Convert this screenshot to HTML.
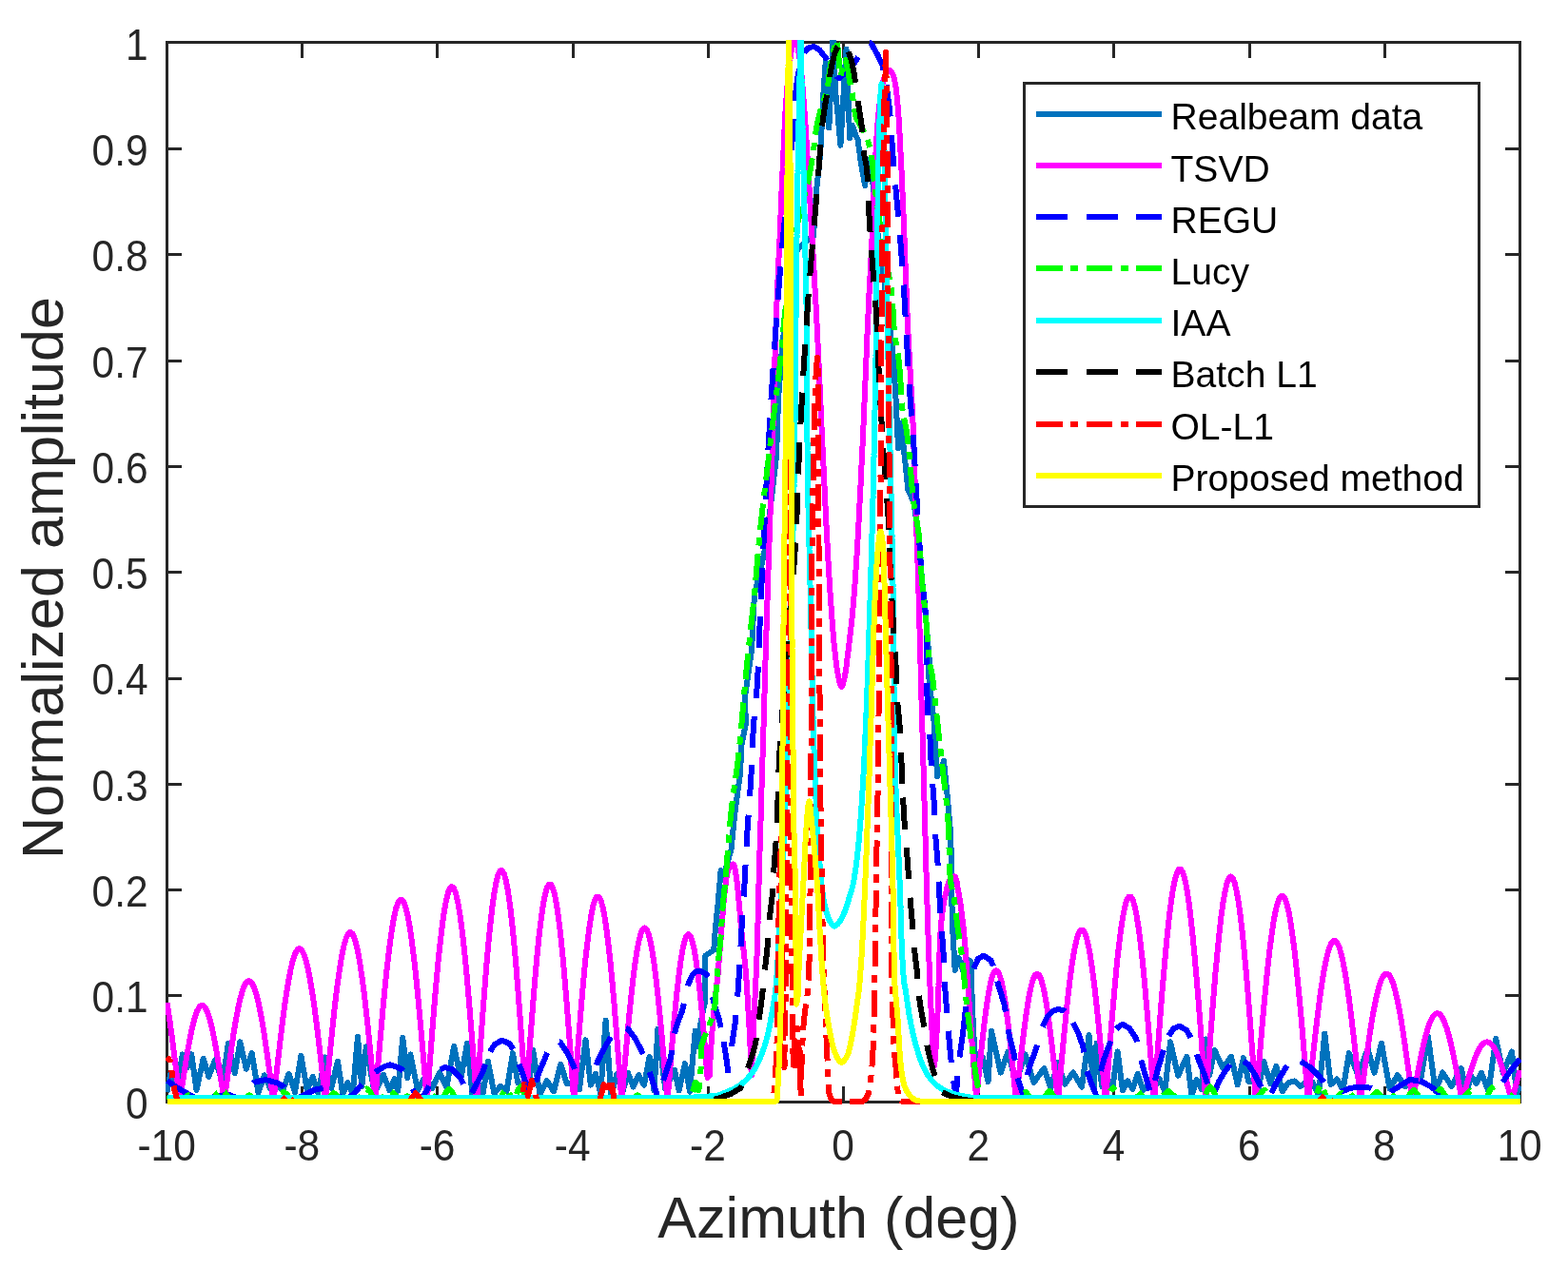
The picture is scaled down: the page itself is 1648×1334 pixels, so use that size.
<!DOCTYPE html>
<html lang="en">
<head>
<meta charset="utf-8">
<title>Normalized amplitude vs Azimuth</title>
<style>
html,body{margin:0;padding:0;background:#fff;}
body{width:1648px;height:1334px;overflow:hidden;}
svg{display:block;}
text{font-family:"Liberation Sans",Arial,Helvetica,sans-serif;}
.tick{font-size:42.45px;fill:#262626;}
.lab{font-size:61.1px;fill:#262626;}
.leg{font-size:39.05px;fill:#000;}
.c{fill:none;stroke-width:6.0;stroke-linejoin:round;stroke-linecap:butt;}
</style>
</head>
<body>
<svg width="1648" height="1334" viewBox="0 0 1648 1334">
<rect x="0" y="0" width="1648" height="1334" fill="#fff"/>
<defs><clipPath id="ax"><rect x="174" y="42" width="1425" height="1119.2"/></clipPath></defs>
<g fill="#262626" shape-rendering="crispEdges">
<rect x="174" y="43" width="1425" height="3"/><rect x="174" y="1157" width="1425" height="3"/><rect x="174" y="43" width="3" height="1117"/><rect x="1596" y="43" width="3" height="1117"/>
<rect x="316" y="1142" width="3" height="15"/><rect x="316" y="46" width="3" height="15"/>
<rect x="458" y="1142" width="3" height="15"/><rect x="458" y="46" width="3" height="15"/>
<rect x="601" y="1142" width="3" height="15"/><rect x="601" y="46" width="3" height="15"/>
<rect x="743" y="1142" width="3" height="15"/><rect x="743" y="46" width="3" height="15"/>
<rect x="885" y="1142" width="3" height="15"/><rect x="885" y="46" width="3" height="15"/>
<rect x="1027" y="1142" width="3" height="15"/><rect x="1027" y="46" width="3" height="15"/>
<rect x="1169" y="1142" width="3" height="15"/><rect x="1169" y="46" width="3" height="15"/>
<rect x="1312" y="1142" width="3" height="15"/><rect x="1312" y="46" width="3" height="15"/>
<rect x="1454" y="1142" width="3" height="15"/><rect x="1454" y="46" width="3" height="15"/>
<rect x="177" y="1045" width="14" height="3"/><rect x="1582" y="1045" width="14" height="3"/>
<rect x="177" y="934" width="14" height="3"/><rect x="1582" y="934" width="14" height="3"/>
<rect x="177" y="823" width="14" height="3"/><rect x="1582" y="823" width="14" height="3"/>
<rect x="177" y="712" width="14" height="3"/><rect x="1582" y="712" width="14" height="3"/>
<rect x="177" y="600" width="14" height="3"/><rect x="1582" y="600" width="14" height="3"/>
<rect x="177" y="489" width="14" height="3"/><rect x="1582" y="489" width="14" height="3"/>
<rect x="177" y="378" width="14" height="3"/><rect x="1582" y="378" width="14" height="3"/>
<rect x="177" y="266" width="14" height="3"/><rect x="1582" y="266" width="14" height="3"/>
<rect x="177" y="155" width="14" height="3"/><rect x="1582" y="155" width="14" height="3"/>
</g>
<g class="tick" text-anchor="middle">
<text transform="translate(175.1 1220.2) scale(1 1.08)">-10</text>
<text transform="translate(317.3 1220.2) scale(1 1.08)">-8</text>
<text transform="translate(459.5 1220.2) scale(1 1.08)">-6</text>
<text transform="translate(601.7 1220.2) scale(1 1.08)">-4</text>
<text transform="translate(743.9 1220.2) scale(1 1.08)">-2</text>
<text transform="translate(886.1 1220.2) scale(1 1.08)">0</text>
<text transform="translate(1028.3 1220.2) scale(1 1.08)">2</text>
<text transform="translate(1170.5 1220.2) scale(1 1.08)">4</text>
<text transform="translate(1312.7 1220.2) scale(1 1.08)">6</text>
<text transform="translate(1454.9 1220.2) scale(1 1.08)">8</text>
<text transform="translate(1597.1 1220.2) scale(1 1.08)">10</text>
</g>
<g class="tick" text-anchor="end">
<text transform="translate(155.6 1175.6) scale(1 1.075)">0</text>
<text transform="translate(155.6 1064.3) scale(1 1.075)">0.1</text>
<text transform="translate(155.6 953.0) scale(1 1.075)">0.2</text>
<text transform="translate(155.6 841.7) scale(1 1.075)">0.3</text>
<text transform="translate(155.6 730.4) scale(1 1.075)">0.4</text>
<text transform="translate(155.6 619.1) scale(1 1.075)">0.5</text>
<text transform="translate(155.6 507.8) scale(1 1.075)">0.6</text>
<text transform="translate(155.6 396.5) scale(1 1.075)">0.7</text>
<text transform="translate(155.6 285.2) scale(1 1.075)">0.8</text>
<text transform="translate(155.6 173.9) scale(1 1.075)">0.9</text>
<text transform="translate(155.6 63.2) scale(1 1.075)">1</text>
</g>
<text class="lab" text-anchor="middle" transform="translate(881.4 1300.8)">Azimuth (deg)</text>
<text class="lab" text-anchor="middle" transform="translate(66.0 607.5) rotate(-90)">Normalized amplitude</text>
<g clip-path="url(#ax)" shape-rendering="crispEdges">
<polyline class="c" stroke="#0072BD" points="175.5,1148.2 179.0,1130.0 185.1,1146.8 191.8,1108.4 196.8,1122.3 201.3,1108.4 206.5,1145.9 213.7,1112.8 219.4,1131.9 226.0,1114.3 233.9,1137.4 239.9,1096.8 246.8,1128.4 252.3,1095.3 258.8,1123.7 264.7,1107.0 271.5,1149.0 277.8,1130.3 284.2,1144.4 290.7,1138.4 297.1,1146.7 303.5,1128.9 310.0,1148.1 316.4,1109.9 322.7,1145.6 328.7,1131.7 334.3,1149.2 341.8,1111.4 348.3,1143.7 354.9,1115.7 360.2,1150.1 365.4,1138.0 370.7,1150.7 376.0,1089.5 380.2,1142.5 384.8,1100.4 393.8,1149.5 403.0,1130.0 409.6,1146.4 414.6,1134.0 418.2,1146.9 423.3,1091.0 428.2,1133.3 431.3,1108.4 439.0,1146.0 446.6,1132.2 454.2,1144.1 461.9,1127.4 469.3,1143.1 477.2,1099.7 484.3,1134.1 491.0,1096.8 496.5,1150.5 501.9,1137.5 507.4,1150.9 512.9,1115.7 519.4,1149.7 526.0,1141.9 532.5,1146.7 539.0,1107.0 544.3,1138.6 549.6,1140.0 554.9,1151.4 560.2,1104.0 567.5,1150.5 574.8,1136.0 582.0,1147.4 589.3,1118.6 595.8,1139.4 602.4,1139.6 609.0,1145.2 615.5,1093.2 620.8,1140.6 626.0,1128.9 631.3,1149.7 636.6,1072.8 642.4,1151.8 648.3,1129.2 654.1,1148.8 660.0,1128.0 665.6,1142.6 671.3,1130.1 677.0,1140.7 682.6,1111.0 687.5,1146.6 691.4,1082.0 699.3,1145.0 709.0,1125.0 713.6,1146.3 720.0,1118.0 725.0,1147.6 730.7,1083.7 733.0,1100.0 735.7,1080.0 739.0,1062.0 741.5,1051.0 740.8,1029.0 741.5,1004.5 750.3,998.6 751.7,978.0 754.7,949.0 757.6,915.0 760.5,920.0 765.0,905.0 768.5,893.0 772.1,856.5 778.0,812.8 779.4,783.7 784.0,760.0 782.7,734.7 790.0,683.8 792.9,625.5 799.0,600.0 803.1,581.8 809.0,540.0 816.0,480.0 818.0,420.0 822.0,366.0 826.0,330.0 832.0,300.0 838.0,262.0 846.0,255.0 855.0,248.0 858.0,200.0 861.0,175.0 862.8,151.0 865.0,105.0 867.7,65.0 869.5,95.0 871.3,134.4 873.5,85.0 875.6,40.0 878.0,95.0 880.5,120.0 883.4,152.6 886.5,100.0 889.5,51.8 891.5,105.0 893.2,145.3 896.0,132.0 899.2,141.6 901.5,146.5 905.0,172.0 909.1,195.0 912.0,172.0 915.0,167.0 919.0,210.0 924.0,260.0 930.0,300.0 934.0,335.0 938.3,369.0 941.2,413.0 944.1,471.0 947.0,445.0 951.4,485.6 954.3,514.7 960.1,527.3 965.9,563.7 968.8,607.4 973.2,651.0 976.8,694.8 975.7,707.0 981.5,758.0 985.2,816.5 992.0,800.0 996.0,840.0 999.4,880.0 1000.0,938.0 1001.5,982.0 1003.7,1019.8 1007.4,1006.7 1012.0,1020.0 1016.0,1008.0 1020.5,1011.0 1022.0,1060.0 1024.0,1100.0 1027.0,1128.0 1033.0,1112.0 1038.5,1137.1 1042.0,1083.7 1051.7,1127.6 1059.4,1105.5 1067.7,1138.2 1077.6,1108.4 1086.5,1138.0 1097.3,1123.0 1104.4,1144.2 1111.8,1117.0 1119.2,1139.8 1127.9,1127.4 1137.0,1142.7 1144.6,1088.0 1149.5,1145.7 1152.6,1096.8 1158.1,1142.0 1163.6,1134.4 1169.1,1144.3 1174.6,1105.5 1179.9,1146.3 1185.2,1136.3 1190.4,1144.9 1195.7,1128.8 1201.4,1145.9 1207.1,1141.2 1212.8,1144.1 1218.6,1134.0 1224.3,1147.5 1230.0,1095.3 1238.2,1130.8 1247.4,1110.6 1252.5,1151.6 1257.6,1135.3 1262.7,1144.8 1267.8,1092.4 1271.2,1130.1 1276.5,1104.0 1285.4,1123.1 1294.0,1110.6 1300.7,1140.4 1307.0,1112.0 1312.3,1137.0 1317.6,1136.8 1322.9,1143.5 1328.2,1115.7 1335.1,1138.9 1341.3,1120.8 1347.7,1147.3 1354.0,1138.3 1360.4,1136.4 1366.8,1142.0 1373.2,1137.0 1379.5,1137.5 1385.9,1151.4 1392.3,1086.6 1398.7,1140.0 1405.1,1134.4 1411.5,1145.5 1417.9,1107.0 1427.3,1130.3 1437.5,1102.6 1444.4,1127.7 1452.0,1096.8 1460.6,1144.6 1468.8,1130.3 1476.8,1142.0 1484.8,1138.8 1492.9,1136.4 1500.9,1089.5 1508.7,1147.2 1516.2,1127.4 1525.6,1141.8 1535.8,1123.0 1541.1,1148.9 1546.4,1131.3 1551.7,1139.0 1557.0,1128.0 1564.5,1147.0 1572.2,1091.7 1579.8,1128.0 1589.0,1105.5 1594.2,1149.5 1597.5,1141.2"/>
<polyline class="c" stroke="#FF00FF" points="175.5,1054.2 176.8,1061.9 178.8,1075.7 180.8,1090.7 182.9,1106.6 184.9,1123.3 187.0,1140.5 189.0,1158.0 191.0,1144.2 193.1,1130.7 195.1,1117.6 197.1,1105.4 199.2,1094.1 201.2,1084.0 203.2,1075.3 205.2,1068.1 207.3,1062.6 209.3,1058.8 211.3,1057.0 213.4,1057.0 215.4,1058.8 217.4,1062.6 219.5,1068.1 221.5,1075.3 223.5,1084.0 225.5,1094.1 227.6,1105.4 229.6,1117.6 231.6,1130.7 233.7,1144.2 235.7,1158.0 237.8,1142.1 239.8,1126.4 241.9,1111.3 244.0,1096.9 246.0,1083.4 248.1,1071.1 250.2,1060.2 252.2,1050.9 254.3,1043.2 256.4,1037.3 258.4,1033.4 260.5,1031.4 262.6,1031.4 264.7,1033.4 266.7,1037.3 268.8,1043.2 270.9,1050.9 272.9,1060.2 275.0,1071.1 277.1,1083.4 279.1,1096.9 281.2,1111.3 283.3,1126.4 285.3,1142.1 287.4,1158.0 289.4,1139.3 291.4,1120.9 293.5,1103.0 295.5,1085.8 297.5,1069.6 299.5,1054.6 301.6,1041.0 303.6,1029.0 305.6,1018.7 307.6,1010.3 309.6,1003.9 311.7,999.6 313.7,997.4 315.7,997.4 317.7,999.6 319.8,1003.9 321.8,1010.3 323.8,1018.7 325.8,1029.0 327.8,1041.0 329.9,1054.6 331.9,1069.6 333.9,1085.8 335.9,1103.0 338.0,1120.9 340.0,1139.3 342.0,1158.0 344.0,1136.5 346.0,1115.4 348.0,1094.9 350.0,1075.2 352.0,1056.8 354.0,1039.9 356.1,1024.7 358.1,1011.4 360.1,1000.3 362.1,991.5 364.1,985.1 366.1,981.2 368.1,979.9 370.1,981.2 372.1,985.1 374.1,991.5 376.1,1000.3 378.1,1011.4 380.1,1024.7 382.2,1039.9 384.2,1056.8 386.2,1075.2 388.2,1094.9 390.2,1115.4 392.2,1136.5 394.2,1158.0 396.2,1133.3 398.2,1109.0 400.3,1085.3 402.3,1062.6 404.3,1041.2 406.3,1021.4 408.4,1003.4 410.4,987.5 412.4,973.9 414.4,962.8 416.4,954.3 418.5,948.6 420.5,945.8 422.5,945.8 424.5,948.6 426.6,954.3 428.6,962.8 430.6,973.9 432.6,987.5 434.6,1003.4 436.7,1021.4 438.7,1041.2 440.7,1062.6 442.7,1085.3 444.8,1109.0 446.8,1133.3 448.8,1158.0 450.8,1130.8 452.8,1103.9 454.8,1077.9 456.8,1053.0 458.8,1029.7 460.8,1008.2 462.9,988.9 464.9,972.1 466.9,957.9 468.9,946.7 470.9,938.6 472.9,933.7 474.9,932.1 476.9,933.7 478.9,938.6 480.9,946.7 482.9,957.9 484.9,972.1 486.9,988.9 489.0,1008.2 491.0,1029.7 493.0,1053.0 495.0,1077.9 497.0,1103.9 499.0,1130.8 501.0,1158.0 503.1,1127.5 505.1,1097.5 507.2,1068.4 509.3,1040.8 511.3,1015.0 513.4,991.4 515.5,970.5 517.5,952.6 519.6,937.9 521.7,926.6 523.7,919.0 525.8,915.2 527.9,915.2 530.0,919.0 532.0,926.6 534.1,937.9 536.2,952.6 538.2,970.5 540.3,991.4 542.4,1015.0 544.4,1040.8 546.5,1068.4 548.6,1097.5 550.6,1127.5 552.7,1158.0 554.7,1129.3 556.7,1101.1 558.8,1073.8 560.8,1047.8 562.8,1023.6 564.8,1001.4 566.8,981.8 568.9,964.9 570.9,951.0 572.9,940.5 574.9,933.3 576.9,929.7 579.0,929.7 581.0,933.3 583.0,940.5 585.0,951.0 587.0,964.9 589.1,981.8 591.1,1001.4 593.1,1023.6 595.1,1047.8 597.1,1073.8 599.2,1101.1 601.2,1129.3 603.2,1158.0 605.2,1130.9 607.2,1104.3 609.2,1078.5 611.2,1054.0 613.2,1031.1 615.2,1010.2 617.3,991.6 619.3,975.7 621.3,962.6 623.3,952.6 625.3,945.9 627.3,942.5 629.3,942.5 631.3,945.9 633.3,952.6 635.3,962.6 637.3,975.7 639.3,991.6 641.4,1010.2 643.4,1031.1 645.4,1054.0 647.4,1078.5 649.4,1104.3 651.4,1130.9 653.4,1158.0 655.4,1134.2 657.4,1110.8 659.4,1088.1 661.4,1066.7 663.4,1046.9 665.4,1028.9 667.4,1013.2 669.4,999.9 671.4,989.4 673.4,981.7 675.4,977.0 677.5,975.5 679.5,977.0 681.5,981.7 683.5,989.4 685.5,999.9 687.5,1013.2 689.5,1028.9 691.5,1046.9 693.5,1066.7 695.5,1088.1 697.5,1110.8 699.5,1134.2 701.5,1158.0 703.5,1133.0 705.5,1108.5 707.5,1084.9 709.5,1062.9 711.5,1042.8 713.5,1025.1 715.5,1010.1 717.5,998.0 719.5,989.3 721.5,983.9 723.5,982.1 725.6,983.9 727.6,989.3 729.6,998.0 731.6,1010.1 733.6,1025.1 735.6,1042.8 737.6,1062.9 739.6,1084.9 741.6,1108.5 743.6,1133.0 745.6,1131.0 745.7,1128.2 745.9,1125.5 746.0,1122.7 746.2,1119.9 746.3,1117.2 746.5,1114.4 746.7,1111.7 746.8,1108.9 747.0,1106.1 747.2,1103.4 747.4,1100.6 747.4,1100.0 747.5,1097.9 747.7,1095.1 747.9,1092.3 748.1,1089.6 748.3,1086.8 748.5,1084.1 748.7,1081.3 748.9,1078.5 749.2,1075.8 749.4,1073.0 749.6,1070.3 749.8,1067.5 750.1,1064.7 750.3,1062.0 750.5,1060.0 750.6,1059.2 750.8,1056.5 751.1,1053.7 751.4,1051.0 751.7,1048.2 752.1,1045.5 752.4,1042.7 752.7,1040.0 753.0,1037.2 753.4,1034.5 753.7,1031.7 754.0,1029.0 754.3,1026.2 754.6,1023.5 754.7,1022.0 754.8,1020.7 755.1,1018.0 755.3,1015.2 755.5,1012.5 755.8,1009.7 756.0,1007.0 756.2,1004.2 756.4,1001.4 756.6,998.7 756.9,995.9 757.1,993.2 757.3,990.4 757.5,987.6 757.7,984.9 757.9,982.1 758.1,979.4 758.4,976.6 758.5,975.0 758.6,973.8 758.8,971.1 759.0,968.3 759.2,965.6 759.4,962.8 759.7,960.0 759.9,957.3 760.1,954.5 760.3,951.8 760.5,949.0 760.8,946.2 761.0,943.5 761.3,940.7 761.6,938.0 761.9,935.3 762.0,934.6 762.3,932.5 762.6,929.6 762.9,926.7 763.4,923.9 763.8,921.0 764.4,918.3 765.0,915.8 765.8,913.4 766.0,913.0 767.4,910.9 769.7,908.8 770.6,908.4 771.1,908.7 771.9,910.6 772.6,913.8 773.2,917.3 773.6,920.0 773.7,920.4 774.1,923.1 774.4,925.8 774.8,928.6 775.0,931.3 775.3,934.1 775.6,936.9 775.8,939.6 776.1,942.4 776.3,945.1 776.5,947.0 776.6,947.9 776.8,950.7 777.1,953.4 777.3,956.2 777.6,958.9 777.8,961.7 778.1,964.4 778.3,967.2 778.5,970.0 778.8,972.7 779.0,975.0 779.0,975.5 779.3,978.2 779.6,981.0 779.9,983.7 780.2,986.5 780.5,989.2 780.8,992.0 781.1,994.7 781.4,997.5 781.7,1000.2 782.0,1003.0 782.3,1005.7 782.6,1008.5 782.8,1011.2 783.1,1014.0 783.4,1016.7 783.6,1019.5 783.8,1022.0 783.8,1022.3 784.0,1025.0 784.2,1027.8 784.5,1030.5 784.7,1033.3 784.9,1036.0 785.0,1038.8 785.2,1041.6 785.4,1044.3 785.6,1047.1 785.8,1049.9 785.9,1052.6 786.1,1055.4 786.3,1058.1 786.4,1060.9 786.6,1063.7 786.8,1066.4 786.9,1069.2 787.1,1072.0 787.2,1074.7 787.4,1077.5 787.5,1080.0 787.5,1080.2 787.7,1083.0 787.8,1085.8 787.9,1088.5 788.1,1091.3 788.2,1094.1 788.3,1096.8 788.5,1099.6 788.6,1102.4 788.7,1105.1 788.8,1107.9 789.0,1110.6 789.1,1113.4 789.2,1116.2 789.3,1118.9 789.4,1121.7 789.5,1124.5 789.6,1127.2 789.7,1130.0 789.9,1130.0 790.0,1127.1 790.1,1124.2 790.3,1121.3 790.4,1118.4 790.5,1115.5 790.6,1112.6 790.7,1109.7 790.9,1106.8 791.0,1103.9 791.1,1101.0 791.2,1098.1 791.3,1095.2 791.5,1092.3 791.6,1089.4 791.7,1086.5 791.8,1083.6 792.0,1080.7 792.0,1080.0 792.1,1077.8 792.2,1074.9 792.4,1072.0 792.5,1069.1 792.6,1066.2 792.8,1063.3 792.9,1060.4 793.1,1057.5 793.2,1054.6 793.4,1051.7 793.5,1048.8 793.7,1045.9 793.8,1043.0 794.0,1040.1 794.1,1037.2 794.2,1034.3 794.4,1031.4 794.5,1028.5 794.6,1025.6 794.8,1022.7 794.9,1019.8 795.0,1016.9 795.1,1014.0 795.3,1011.1 795.4,1008.2 795.4,1007.0 795.5,1005.3 795.6,1002.4 795.6,999.5 795.7,996.6 795.8,993.7 795.9,990.8 796.0,987.9 796.1,985.0 796.2,982.1 796.2,979.2 796.3,976.3 796.4,973.4 796.5,970.5 796.5,967.6 796.6,964.7 796.7,961.8 796.7,958.9 796.8,956.0 796.9,953.1 797.0,950.2 797.0,947.3 797.1,944.4 797.2,941.5 797.3,938.6 797.3,935.7 797.4,932.8 797.5,930.0 797.5,929.9 797.6,927.0 797.7,924.0 797.8,921.1 797.8,918.2 797.9,915.3 798.0,912.4 798.1,909.5 798.2,906.6 798.3,903.7 798.3,900.8 798.4,897.9 798.5,895.0 798.6,892.1 798.7,889.2 798.8,886.3 798.9,883.4 798.9,880.5 799.0,877.6 799.1,874.7 799.2,871.8 799.3,868.9 799.4,866.0 799.5,863.1 799.6,860.2 799.7,857.3 799.7,854.4 799.8,851.5 799.9,848.6 800.0,845.7 800.1,842.8 800.2,839.9 800.3,837.0 800.4,834.1 800.4,831.2 800.5,828.3 800.6,825.4 800.7,822.5 800.8,819.6 800.9,816.7 801.0,813.8 801.1,810.9 801.2,808.0 801.2,805.1 801.3,802.2 801.4,799.3 801.5,796.4 801.6,793.5 801.7,790.6 801.8,787.7 801.9,784.8 801.9,781.9 802.0,780.0 802.0,779.0 802.1,776.1 802.2,773.2 802.3,770.3 802.4,767.4 802.5,764.5 802.6,761.6 802.6,758.7 802.7,755.8 802.8,752.9 802.9,750.0 803.0,747.1 803.1,744.2 803.2,741.3 803.2,738.3 803.3,735.4 803.4,732.5 803.5,729.6 803.6,726.7 803.7,723.8 803.7,720.9 803.8,718.0 803.9,715.1 804.0,712.2 804.1,709.3 804.2,706.4 804.3,703.5 804.3,700.6 804.4,697.7 804.5,694.8 804.6,691.9 804.7,689.0 804.8,686.1 804.9,683.2 805.0,680.3 805.0,677.4 805.1,674.5 805.2,671.6 805.3,668.7 805.4,665.8 805.5,662.9 805.6,660.0 805.7,657.1 805.7,654.2 805.8,651.3 805.9,648.4 806.0,645.5 806.1,642.6 806.2,639.7 806.3,636.8 806.4,633.9 806.5,631.0 806.5,630.0 806.6,628.1 806.7,625.2 806.7,622.3 806.8,619.4 806.9,616.5 807.0,613.6 807.1,610.7 807.2,607.8 807.3,604.9 807.4,602.0 807.5,599.1 807.6,596.2 807.7,593.3 807.8,590.4 807.9,587.5 808.0,584.6 808.1,581.7 808.2,578.8 808.3,575.9 808.4,573.0 808.5,570.1 808.6,567.2 808.7,564.3 808.8,561.4 808.9,558.5 809.0,555.6 809.1,552.7 809.2,549.8 809.3,546.9 809.4,544.0 809.5,541.1 809.6,538.2 809.7,535.2 809.8,532.3 809.9,529.4 810.0,526.5 810.1,523.6 810.2,520.7 810.3,517.8 810.4,514.9 810.5,512.0 810.6,509.1 810.7,506.2 810.7,503.3 810.8,500.4 810.9,497.5 811.0,494.6 811.1,491.7 811.2,488.8 811.3,485.9 811.4,483.0 811.5,480.1 811.5,480.0 811.6,477.2 811.7,474.3 811.8,471.4 811.9,468.5 811.9,465.6 812.0,462.7 812.1,459.8 812.2,456.9 812.3,454.0 812.4,451.1 812.5,448.2 812.5,445.3 812.6,442.4 812.7,439.5 812.8,436.6 812.9,433.7 812.9,430.8 813.0,427.9 813.1,425.0 813.2,422.1 813.3,419.2 813.3,416.3 813.4,413.4 813.5,410.5 813.6,407.6 813.7,404.7 813.8,401.8 813.8,398.9 813.9,396.0 814.0,393.1 814.1,390.2 814.2,387.3 814.3,384.4 814.3,381.5 814.4,378.6 814.5,375.7 814.6,372.8 814.7,369.9 814.8,367.0 814.9,364.1 815.0,361.2 815.0,358.3 815.1,355.4 815.2,352.5 815.3,349.6 815.4,346.6 815.5,343.7 815.6,340.8 815.7,337.9 815.8,335.0 815.9,332.1 816.0,330.0 816.0,329.2 816.1,326.3 816.2,323.4 816.4,320.5 816.5,317.6 816.6,314.7 816.7,311.8 816.8,308.9 817.0,306.0 817.1,303.1 817.2,300.2 817.3,297.3 817.5,294.4 817.6,291.5 817.7,288.6 817.9,285.7 818.0,282.8 818.1,279.9 818.3,277.0 818.4,274.1 818.5,271.2 818.7,268.3 818.8,265.4 818.9,262.5 819.1,259.6 819.2,256.7 819.3,253.8 819.5,250.9 819.5,250.0 819.6,248.0 819.7,245.1 819.8,242.2 820.0,239.3 820.1,236.4 820.2,233.5 820.3,230.6 820.4,227.7 820.6,224.8 820.7,221.9 820.8,219.0 820.9,216.1 821.0,213.2 821.2,210.3 821.3,207.4 821.4,204.5 821.5,201.6 821.7,198.7 821.8,195.8 821.9,192.9 822.0,190.0 822.2,187.1 822.3,184.2 822.4,181.3 822.5,180.0 822.6,178.4 822.7,175.5 822.8,172.6 823.0,169.7 823.1,166.8 823.2,163.9 823.4,161.0 823.5,158.1 823.6,155.2 823.7,152.3 823.9,149.4 824.0,146.5 824.1,143.6 824.3,140.7 824.4,137.8 824.6,134.9 824.7,132.0 824.9,129.1 825.0,126.2 825.2,123.3 825.4,120.4 825.5,117.5 825.7,114.6 825.9,111.8 826.0,110.0 826.1,108.9 826.3,106.0 826.5,103.1 826.7,100.2 826.9,97.3 827.1,94.4 827.4,91.5 827.6,88.6 827.9,85.7 828.2,82.8 828.4,79.9 828.7,77.0 829.0,74.1 829.4,71.3 829.5,70.0 829.7,68.4 830.0,65.5 830.4,62.6 830.8,59.7 831.2,56.8 831.7,54.0 832.3,51.1 832.5,50.0 832.9,48.3 833.7,45.5 834.5,42.8 835.5,40.0 835.5,40.0 836.4,42.7 837.3,45.5 838.1,48.2 838.5,50.0 838.7,51.0 839.2,53.8 839.7,56.7 840.2,59.5 840.6,62.3 840.9,65.2 841.3,68.1 841.5,70.0 841.6,70.9 841.9,73.8 842.2,76.6 842.5,79.5 842.8,82.3 843.0,85.2 843.3,88.0 843.5,90.9 843.8,93.8 844.0,96.6 844.2,99.5 844.4,102.4 844.6,105.2 844.9,108.1 845.0,110.0 845.1,110.9 845.3,113.8 845.5,116.7 845.7,119.5 845.9,122.4 846.1,125.3 846.3,128.1 846.5,131.0 846.7,133.9 846.9,136.7 847.0,139.6 847.2,142.4 847.4,145.3 847.6,148.2 847.8,151.0 847.9,153.9 848.1,156.8 848.3,159.6 848.4,162.5 848.6,165.4 848.8,168.2 849.0,171.1 849.1,174.0 849.3,176.8 849.5,179.7 849.5,180.0 849.7,182.6 849.8,185.4 850.0,188.3 850.2,191.2 850.3,194.0 850.5,196.9 850.7,199.8 850.8,202.6 851.0,205.5 851.2,208.4 851.3,211.2 851.5,214.1 851.6,217.0 851.8,219.8 852.0,222.7 852.1,225.6 852.3,228.4 852.4,231.3 852.6,234.2 852.8,237.0 852.9,239.9 853.1,242.8 853.3,245.6 853.4,248.5 853.5,250.0 853.6,251.3 853.7,254.2 853.9,257.1 854.1,259.9 854.2,262.8 854.4,265.7 854.6,268.5 854.7,271.4 854.9,274.3 855.1,277.1 855.2,280.0 855.4,282.9 855.6,285.7 855.7,288.6 855.9,291.5 856.1,294.3 856.2,297.2 856.4,300.1 856.5,302.9 856.7,305.8 856.9,308.7 857.0,311.5 857.2,314.4 857.3,317.3 857.5,320.1 857.6,323.0 857.8,325.9 857.9,328.7 858.0,330.0 858.1,331.6 858.2,334.5 858.4,337.3 858.5,340.2 858.7,343.1 858.8,345.9 858.9,348.8 859.1,351.7 859.2,354.5 859.4,357.4 859.5,360.3 859.6,363.1 859.8,366.0 859.9,368.9 860.0,371.7 860.2,374.6 860.3,377.5 860.4,380.3 860.6,383.2 860.7,386.1 860.8,388.9 860.9,391.8 861.1,394.7 861.2,397.6 861.3,400.4 861.5,403.3 861.6,406.2 861.7,409.0 861.8,411.9 862.0,414.8 862.1,417.6 862.2,420.5 862.4,423.4 862.5,426.2 862.6,429.1 862.7,432.0 862.9,434.8 863.0,437.7 863.1,440.6 863.3,443.4 863.4,446.3 863.5,449.2 863.7,452.0 863.8,454.9 863.9,457.8 864.1,460.6 864.2,463.5 864.3,466.4 864.5,469.2 864.6,472.1 864.8,475.0 864.9,477.8 865.0,480.0 865.0,480.7 865.2,483.6 865.3,486.4 865.5,489.3 865.6,492.2 865.7,495.0 865.9,497.9 866.0,500.8 866.2,503.6 866.3,506.5 866.4,509.4 866.6,512.3 866.7,515.1 866.9,518.0 867.0,520.9 867.1,523.7 867.3,526.6 867.4,529.5 867.5,532.3 867.7,535.2 867.8,538.1 868.0,540.9 868.1,543.8 868.3,546.7 868.4,549.5 868.5,552.4 868.7,555.3 868.8,558.1 869.0,561.0 869.1,563.9 869.3,566.7 869.4,569.6 869.6,572.5 869.7,575.3 869.9,578.2 870.0,581.1 870.2,583.9 870.4,586.8 870.5,589.7 870.7,592.5 870.8,595.4 871.0,598.3 871.2,601.1 871.4,604.0 871.5,606.9 871.7,609.7 871.9,612.6 872.1,615.5 872.2,618.3 872.4,621.2 872.6,624.0 872.8,626.9 873.0,629.8 873.0,630.0 873.2,632.6 873.4,635.5 873.6,638.4 873.8,641.2 874.0,644.1 874.2,647.0 874.4,649.8 874.6,652.7 874.8,655.6 875.0,658.4 875.3,661.3 875.5,664.1 875.7,667.0 876.0,669.9 876.2,672.7 876.5,675.6 876.8,678.4 877.1,681.3 877.4,684.1 877.7,687.0 878.0,689.8 878.0,690.0 878.3,692.7 878.7,695.6 879.0,698.4 879.4,701.3 879.8,704.1 880.3,707.0 880.8,709.8 881.4,712.6 881.5,713.0 882.1,715.8 883.0,719.3 884.0,721.7 884.4,722.0 884.9,721.6 886.0,719.0 886.9,715.5 887.5,713.0 887.6,712.4 888.2,709.6 888.7,706.7 889.1,703.9 889.5,701.1 889.8,698.2 890.2,695.3 890.5,692.5 890.8,690.0 890.8,689.6 891.2,686.8 891.6,683.9 891.9,681.1 892.3,678.2 892.6,675.4 893.0,672.5 893.3,669.7 893.6,666.8 894.0,664.0 894.3,661.1 894.6,658.2 894.9,655.4 895.2,652.5 895.5,649.7 895.8,646.8 896.1,644.0 896.3,641.1 896.6,638.2 896.9,635.4 897.1,632.5 897.3,630.0 897.3,629.7 897.5,626.8 897.8,624.0 898.0,621.1 898.2,618.2 898.4,615.4 898.6,612.5 898.8,609.6 899.0,606.8 899.2,603.9 899.4,601.1 899.6,598.2 899.8,595.3 900.0,592.5 900.2,589.6 900.3,586.7 900.5,583.9 900.7,581.0 900.9,578.1 901.0,575.3 901.2,572.4 901.4,569.5 901.5,566.7 901.7,563.8 901.9,560.9 902.0,558.1 902.2,555.2 902.3,552.3 902.5,549.5 902.7,546.6 902.8,543.7 903.0,540.9 903.1,538.0 903.3,535.1 903.4,532.3 903.5,529.4 903.7,526.5 903.8,523.7 904.0,520.8 904.1,517.9 904.3,515.1 904.4,512.2 904.6,509.3 904.7,506.5 904.8,503.6 905.0,500.7 905.1,497.9 905.3,495.0 905.4,492.1 905.5,489.3 905.7,486.4 905.8,483.5 906.0,480.7 906.0,480.0 906.1,477.8 906.2,474.9 906.4,472.0 906.5,469.2 906.7,466.3 906.8,463.4 906.9,460.6 907.1,457.7 907.2,454.8 907.3,452.0 907.4,449.1 907.6,446.2 907.7,443.4 907.8,440.5 907.9,437.6 908.1,434.8 908.2,431.9 908.3,429.0 908.4,426.2 908.5,423.3 908.7,420.4 908.8,417.6 908.9,414.7 909.0,411.8 909.1,409.0 909.3,406.1 909.4,403.2 909.5,400.4 909.6,397.5 909.7,394.6 909.8,391.7 910.0,388.9 910.1,386.0 910.2,383.1 910.3,380.3 910.4,377.4 910.6,374.5 910.7,371.7 910.8,368.8 910.9,365.9 911.0,363.1 911.2,360.2 911.3,357.3 911.4,354.5 911.5,351.6 911.7,348.7 911.8,345.9 911.9,343.0 912.0,340.1 912.2,337.3 912.3,334.4 912.4,331.5 912.5,330.0 912.6,328.7 912.7,325.8 912.8,322.9 913.0,320.0 913.1,317.2 913.3,314.3 913.4,311.4 913.5,308.6 913.7,305.7 913.8,302.8 914.0,300.0 914.1,297.1 914.3,294.2 914.4,291.4 914.6,288.5 914.7,285.6 914.9,282.8 915.0,279.9 915.2,277.0 915.3,274.2 915.5,271.3 915.6,268.4 915.7,265.6 915.9,262.7 916.0,259.8 916.2,257.0 916.3,254.1 916.5,251.2 916.6,248.4 916.7,245.5 916.9,242.6 917.0,240.0 917.0,239.8 917.1,236.9 917.3,234.0 917.4,231.2 917.5,228.3 917.6,225.4 917.8,222.6 917.9,219.7 918.0,216.8 918.1,214.0 918.2,211.1 918.3,208.2 918.4,205.3 918.5,202.5 918.7,199.6 918.8,196.7 918.9,193.9 919.0,191.0 919.1,188.1 919.2,185.3 919.4,182.4 919.5,179.5 919.6,176.7 919.8,173.8 919.9,170.9 920.1,168.1 920.2,165.2 920.4,162.3 920.5,160.0 920.5,159.5 920.7,156.6 920.9,153.7 921.0,150.9 921.2,148.0 921.4,145.1 921.6,142.3 921.8,139.4 922.0,136.5 922.2,133.7 922.4,130.8 922.7,127.9 922.9,125.1 923.2,122.2 923.4,119.3 923.7,116.5 924.0,113.6 924.3,110.8 924.6,107.9 925.0,105.1 925.0,105.0 925.3,102.3 925.7,99.4 926.1,96.4 926.6,93.5 927.1,90.6 927.7,87.8 928.4,85.0 929.2,82.4 930.0,80.0 930.1,79.8 931.5,76.8 933.4,74.3 934.5,73.7 935.2,73.9 937.1,76.1 938.7,79.1 939.0,80.0 939.5,81.8 940.2,84.4 940.8,87.2 941.3,90.0 941.7,92.9 942.1,95.9 942.4,98.8 942.7,101.7 943.0,104.6 943.0,105.0 943.2,107.5 943.5,110.3 943.7,113.2 944.0,116.0 944.2,118.9 944.4,121.8 944.6,124.6 944.7,127.5 944.9,130.4 945.1,133.2 945.3,136.1 945.4,139.0 945.6,141.8 945.7,144.7 945.9,147.6 946.0,150.4 946.2,153.3 946.3,156.2 946.4,159.0 946.5,160.0 946.6,161.9 946.8,164.8 946.9,167.6 947.0,170.5 947.2,173.4 947.3,176.2 947.5,179.1 947.6,182.0 947.7,184.8 947.9,187.7 948.0,190.6 948.1,193.5 948.3,196.3 948.4,199.2 948.5,202.1 948.6,204.9 948.8,207.8 948.9,210.7 949.0,213.5 949.1,216.4 949.2,219.3 949.4,222.1 949.5,225.0 949.6,227.9 949.7,230.7 949.8,233.6 949.9,236.5 950.1,239.3 950.2,242.2 950.3,245.1 950.4,247.9 950.5,250.0 950.5,250.8 950.7,253.7 950.8,256.6 950.9,259.4 951.0,262.3 951.1,265.2 951.2,268.0 951.3,270.9 951.4,273.8 951.5,276.6 951.6,279.5 951.8,282.4 951.9,285.2 952.0,288.1 952.1,291.0 952.2,293.8 952.3,296.7 952.4,299.6 952.5,302.5 952.6,305.3 952.7,308.2 952.8,311.1 952.9,313.9 953.0,316.8 953.2,319.7 953.3,322.5 953.4,325.4 953.5,328.3 953.6,331.1 953.7,334.0 953.9,336.9 954.0,339.7 954.0,340.0 954.1,342.6 954.2,345.5 954.4,348.3 954.5,351.2 954.7,354.1 954.8,356.9 955.0,359.8 955.1,362.7 955.3,365.5 955.4,368.4 955.6,371.3 955.7,374.1 955.9,377.0 956.0,379.9 956.2,382.7 956.4,385.6 956.5,388.5 956.7,391.3 956.9,394.2 957.0,397.1 957.2,399.9 957.3,402.8 957.5,405.7 957.7,408.5 957.8,411.4 958.0,414.3 958.1,417.1 958.3,420.0 958.4,422.9 958.6,425.7 958.7,428.6 958.9,431.5 959.0,434.3 959.2,437.2 959.3,440.1 959.4,442.9 959.6,445.8 959.7,448.7 959.8,451.5 959.9,454.4 960.0,456.5 960.0,457.3 960.1,460.1 960.2,463.0 960.3,465.9 960.4,468.8 960.5,471.6 960.6,474.5 960.7,477.4 960.8,480.2 960.9,483.1 961.0,486.0 961.1,488.8 961.1,491.7 961.2,494.6 961.3,497.4 961.4,500.3 961.5,503.2 961.6,506.1 961.7,508.9 961.7,511.8 961.8,514.7 961.9,517.5 962.0,520.0 962.0,520.4 962.1,523.3 962.2,526.1 962.3,529.0 962.4,531.9 962.5,534.7 962.6,537.6 962.7,540.5 962.8,543.4 962.9,546.2 963.0,549.1 963.1,552.0 963.2,554.8 963.3,557.7 963.4,560.6 963.5,563.4 963.6,566.3 963.7,569.2 963.8,572.0 963.9,574.9 964.0,577.8 964.1,580.6 964.2,583.5 964.3,586.4 964.4,589.3 964.5,592.1 964.6,595.0 964.7,597.9 964.8,600.7 964.9,603.6 965.0,606.5 965.0,607.0 965.1,609.3 965.2,612.2 965.2,615.1 965.3,617.9 965.4,620.8 965.5,623.7 965.6,626.6 965.6,629.4 965.7,632.3 965.8,635.2 965.9,638.0 966.0,640.9 966.0,643.8 966.1,646.6 966.2,649.5 966.2,652.4 966.3,655.3 966.4,658.1 966.5,661.0 966.5,663.9 966.6,666.7 966.7,669.6 966.8,672.5 966.8,675.3 966.9,678.2 967.0,681.1 967.1,683.9 967.1,686.8 967.2,689.7 967.3,692.6 967.4,695.4 967.5,698.3 967.5,700.0 967.5,701.2 967.6,704.0 967.7,706.9 967.8,709.8 967.9,712.6 967.9,715.5 968.0,718.4 968.1,721.3 968.2,724.1 968.3,727.0 968.4,729.9 968.4,732.7 968.5,735.6 968.6,738.5 968.7,741.3 968.8,744.2 968.9,747.1 968.9,749.9 969.0,752.8 969.1,755.7 969.2,758.6 969.3,761.4 969.4,764.3 969.4,767.2 969.5,770.0 969.6,772.9 969.7,775.8 969.8,778.6 969.8,781.5 969.9,784.4 970.0,787.0 970.0,787.2 970.1,790.1 970.2,793.0 970.2,795.9 970.3,798.7 970.4,801.6 970.5,804.5 970.6,807.3 970.6,810.2 970.7,813.1 970.8,815.9 970.9,818.8 970.9,821.7 971.0,824.6 971.1,827.4 971.2,830.3 971.2,833.2 971.3,836.0 971.4,838.9 971.5,841.8 971.5,844.6 971.6,847.5 971.7,850.4 971.8,853.2 971.9,856.1 971.9,859.0 972.0,861.9 972.1,864.7 972.2,867.6 972.2,870.5 972.3,873.3 972.4,876.2 972.5,879.1 972.5,880.0 972.6,881.9 972.6,884.8 972.7,887.7 972.8,890.6 972.9,893.4 972.9,896.3 973.0,899.2 973.1,902.0 973.2,904.9 973.3,907.8 973.3,910.6 973.4,913.5 973.5,916.4 973.6,919.2 973.7,922.1 973.7,925.0 973.8,927.9 973.9,930.7 974.0,933.6 974.1,936.5 974.2,939.3 974.2,942.2 974.3,945.1 974.4,947.9 974.5,950.8 974.6,953.7 974.7,956.6 974.8,959.4 974.8,962.3 974.9,965.2 975.0,967.0 975.0,968.0 975.1,970.9 975.2,973.8 975.3,976.6 975.4,979.5 975.5,982.4 975.6,985.2 975.7,988.1 975.8,991.0 975.9,993.8 976.0,996.7 976.1,999.6 976.2,1002.5 976.3,1005.3 976.4,1008.2 976.5,1011.1 976.6,1013.9 976.7,1016.8 976.9,1019.7 977.0,1022.5 977.1,1025.4 977.2,1028.3 977.3,1031.1 977.4,1034.0 977.5,1036.9 977.6,1039.7 977.8,1042.6 977.9,1045.5 978.0,1048.4 978.1,1051.2 978.2,1054.1 978.4,1057.0 978.5,1059.8 978.5,1060.0 978.6,1062.7 978.7,1065.6 978.9,1068.4 979.0,1071.3 979.1,1074.2 979.3,1077.0 979.4,1079.9 979.5,1082.8 979.7,1085.6 979.8,1088.5 980.0,1091.4 980.2,1094.2 980.3,1097.1 980.5,1100.0 980.5,1100.0 980.7,1102.8 980.9,1105.7 981.1,1108.6 981.3,1111.4 981.5,1114.3 981.8,1117.1 982.0,1120.0 982.2,1120.0 982.4,1117.3 982.6,1114.5 982.9,1111.8 983.1,1109.0 983.3,1106.3 983.5,1103.5 983.6,1100.8 983.8,1098.0 984.0,1095.3 984.0,1095.0 984.1,1092.5 984.3,1089.8 984.4,1087.0 984.6,1084.3 984.7,1081.5 984.9,1078.8 985.0,1076.0 985.1,1073.3 985.2,1070.5 985.4,1067.8 985.5,1065.0 985.6,1062.3 985.7,1060.0 985.7,1059.5 985.8,1056.8 985.9,1054.0 986.0,1051.2 986.1,1048.5 986.2,1045.7 986.3,1043.0 986.4,1040.2 986.5,1037.5 986.5,1034.7 986.6,1032.0 986.7,1029.2 986.8,1026.5 986.8,1023.7 986.9,1020.9 987.0,1018.2 987.1,1015.4 987.2,1012.7 987.2,1009.9 987.3,1007.2 987.4,1004.4 987.5,1001.7 987.6,998.9 987.7,996.2 987.8,993.4 988.0,990.7 988.1,987.9 988.2,985.2 988.4,982.4 988.4,982.0 988.5,979.7 988.7,976.9 988.9,974.2 989.2,971.4 989.4,968.7 989.7,965.9 990.0,963.2 990.3,960.5 990.6,957.7 991.0,955.0 991.0,955.0 991.4,952.3 991.8,949.6 992.3,946.8 992.9,944.1 993.5,941.4 994.1,938.8 994.3,938.0 994.8,936.1 995.4,933.3 996.2,930.5 997.1,927.9 998.2,925.5 998.5,925.0 1000.0,923.3 1002.4,921.5 1003.0,921.3 1003.7,921.6 1004.6,923.3 1005.4,925.9 1006.0,929.3 1006.5,932.8 1007.1,936.1 1007.4,938.0 1007.6,939.0 1008.1,941.7 1008.6,944.4 1009.0,947.1 1009.4,949.9 1009.8,952.6 1010.1,955.3 1010.5,958.0 1010.5,958.1 1010.9,960.8 1011.2,963.5 1011.5,966.3 1011.8,969.0 1012.2,971.7 1012.5,974.5 1012.7,977.2 1013.0,980.0 1013.2,982.0 1013.3,982.7 1013.5,985.4 1013.8,988.2 1014.0,990.9 1014.2,993.7 1014.5,996.4 1014.7,999.2 1014.9,1001.9 1015.1,1004.6 1015.3,1007.4 1015.5,1010.1 1015.7,1012.9 1015.9,1015.6 1016.1,1018.4 1016.3,1021.1 1016.5,1023.9 1016.7,1026.6 1016.9,1029.4 1017.1,1032.1 1017.2,1034.9 1017.4,1037.6 1017.6,1040.4 1017.8,1043.1 1018.0,1045.9 1018.2,1048.6 1018.4,1051.4 1018.6,1054.1 1018.8,1056.9 1019.0,1059.6 1019.0,1060.0 1019.2,1062.4 1019.4,1065.1 1019.6,1067.9 1019.8,1070.6 1020.0,1073.3 1020.2,1076.1 1020.4,1078.8 1020.6,1081.6 1020.8,1084.3 1021.0,1087.1 1021.2,1089.8 1021.3,1092.6 1021.5,1095.3 1021.7,1098.1 1021.9,1100.8 1022.1,1103.6 1022.3,1106.3 1022.6,1109.1 1022.8,1111.8 1023.0,1114.6 1023.0,1115.0 1023.2,1117.3 1023.4,1120.0 1023.6,1122.8 1023.8,1125.5 1024.0,1128.3 1024.2,1131.0 1024.5,1133.8 1024.7,1136.5 1024.9,1139.3 1025.1,1142.0 1025.3,1144.8 1025.6,1147.5 1025.8,1150.3 1026.0,1153.0 1028.0,1137.4 1030.0,1117.3 1032.0,1098.1 1034.0,1080.3 1036.0,1064.1 1038.0,1050.1 1040.0,1038.5 1042.0,1029.5 1044.0,1023.4 1046.0,1020.4 1048.0,1020.4 1050.0,1023.4 1052.0,1029.5 1054.0,1038.5 1056.0,1050.1 1058.0,1064.1 1060.0,1080.3 1062.0,1098.1 1064.0,1117.3 1066.0,1137.4 1068.0,1158.0 1070.0,1138.9 1072.0,1120.2 1074.0,1102.2 1076.0,1085.4 1078.0,1070.0 1080.0,1056.5 1082.0,1045.0 1084.0,1035.8 1086.0,1029.1 1088.0,1025.0 1090.0,1023.7 1092.0,1025.0 1094.0,1029.1 1096.0,1035.8 1098.0,1045.0 1100.0,1056.5 1102.0,1070.0 1104.0,1085.4 1106.0,1102.2 1108.0,1120.2 1110.0,1138.9 1112.0,1158.0 1114.0,1135.3 1116.0,1113.0 1118.0,1091.4 1120.0,1070.9 1122.0,1051.7 1124.0,1034.2 1126.0,1018.6 1128.0,1005.3 1130.0,994.4 1132.0,986.0 1134.0,980.3 1136.0,977.5 1138.0,977.5 1140.0,980.3 1142.0,986.0 1144.0,994.4 1146.0,1005.3 1148.0,1018.6 1150.0,1034.2 1152.0,1051.7 1154.0,1070.9 1156.0,1091.4 1158.0,1113.0 1160.0,1135.3 1162.0,1158.0 1164.0,1130.9 1166.1,1104.3 1168.1,1078.5 1170.2,1054.0 1172.2,1031.1 1174.2,1010.2 1176.3,991.6 1178.3,975.7 1180.4,962.6 1182.4,952.6 1184.4,945.9 1186.5,942.5 1188.5,942.5 1190.6,945.9 1192.6,952.6 1194.6,962.6 1196.7,975.7 1198.7,991.6 1200.8,1010.2 1202.8,1031.1 1204.8,1054.0 1206.9,1078.5 1208.9,1104.3 1211.0,1130.9 1213.0,1158.0 1215.0,1129.6 1217.0,1101.6 1219.0,1074.4 1221.0,1048.3 1223.1,1023.6 1225.1,1000.8 1227.1,980.1 1229.1,961.9 1231.1,946.2 1233.1,933.5 1235.1,923.7 1237.1,917.2 1239.1,913.9 1241.2,913.9 1243.2,917.2 1245.2,923.7 1247.2,933.5 1249.2,946.2 1251.2,961.9 1253.2,980.1 1255.2,1000.8 1257.2,1023.6 1259.3,1048.3 1261.3,1074.4 1263.3,1101.6 1265.3,1129.6 1267.3,1158.0 1269.3,1129.5 1271.4,1101.4 1273.4,1074.1 1275.4,1048.1 1277.4,1023.6 1279.5,1001.2 1281.5,981.0 1283.5,963.4 1285.5,948.6 1287.6,936.9 1289.6,928.4 1291.6,923.2 1293.7,921.5 1295.7,923.2 1297.7,928.4 1299.7,936.9 1301.8,948.6 1303.8,963.4 1305.8,981.0 1307.8,1001.2 1309.9,1023.6 1311.9,1048.1 1313.9,1074.1 1315.9,1101.4 1318.0,1129.5 1320.0,1158.0 1322.0,1132.9 1324.1,1108.1 1326.1,1083.9 1328.1,1060.8 1330.2,1039.0 1332.2,1018.8 1334.2,1000.5 1336.3,984.3 1338.3,970.4 1340.3,959.1 1342.4,950.5 1344.4,944.7 1346.4,941.8 1348.5,941.8 1350.5,944.7 1352.5,950.5 1354.6,959.1 1356.6,970.4 1358.6,984.3 1360.7,1000.5 1362.7,1018.8 1364.7,1039.0 1366.8,1060.8 1368.8,1083.9 1370.8,1108.1 1372.9,1132.9 1374.9,1158.0 1376.9,1138.4 1379.0,1119.0 1381.0,1100.1 1383.1,1082.1 1385.1,1065.0 1387.1,1049.3 1389.2,1034.9 1391.2,1022.3 1393.3,1011.5 1395.3,1002.7 1397.3,995.9 1399.4,991.4 1401.4,989.1 1403.5,989.1 1405.5,991.4 1407.6,995.9 1409.6,1002.7 1411.6,1011.5 1413.7,1022.3 1415.7,1034.9 1417.8,1049.3 1419.8,1065.0 1421.8,1082.1 1423.9,1100.1 1425.9,1119.0 1428.0,1138.4 1430.0,1158.0 1432.0,1142.4 1434.0,1126.9 1436.1,1111.9 1438.1,1097.6 1440.1,1084.0 1442.1,1071.4 1444.2,1060.0 1446.2,1050.0 1448.2,1041.4 1450.2,1034.3 1452.2,1029.0 1454.3,1025.4 1456.3,1023.6 1458.3,1023.6 1460.3,1025.4 1462.4,1029.0 1464.4,1034.3 1466.4,1041.4 1468.4,1050.0 1470.4,1060.0 1472.5,1071.4 1474.5,1084.0 1476.5,1097.6 1478.5,1111.9 1480.6,1126.9 1482.6,1142.4 1484.6,1158.0 1486.6,1146.8 1488.6,1135.8 1490.6,1125.0 1492.6,1114.8 1494.6,1105.2 1496.6,1096.4 1498.6,1088.4 1500.6,1081.5 1502.6,1075.7 1504.6,1071.1 1506.6,1067.8 1508.6,1065.7 1510.7,1065.1 1512.7,1065.7 1514.7,1067.8 1516.7,1071.1 1518.7,1075.7 1520.7,1081.5 1522.7,1088.4 1524.7,1096.4 1526.7,1105.2 1528.7,1114.8 1530.7,1125.0 1532.7,1135.8 1534.7,1146.8 1536.7,1158.0 1538.7,1150.4 1540.7,1143.0 1542.7,1135.8 1544.7,1128.9 1546.8,1122.4 1548.8,1116.4 1550.8,1111.1 1552.8,1106.4 1554.8,1102.5 1556.8,1099.4 1558.8,1097.2 1560.8,1095.8 1562.8,1095.3 1564.9,1095.8 1566.9,1097.2 1568.9,1099.4 1570.9,1102.5 1572.9,1106.4 1574.9,1111.1 1576.9,1116.4 1578.9,1122.4 1581.0,1128.9 1583.0,1135.8 1585.0,1143.0 1587.0,1150.4 1589.0,1158.0 1591.0,1149.7 1593.1,1141.5 1595.1,1133.6 1597.2,1126.2 1597.5,1125.1"/>
<g stroke="#0000FF">
<polyline class="c" stroke-dasharray="33.3 19.4" stroke-dashoffset="33.3" points="175.8,1136.0 175.5,1135.8"/>
<polyline class="c" stroke-dasharray="33.3 19.4" stroke-dashoffset="0" points="175.8,1136.0 185.7,1143.1 196.0,1149.1 207.0,1155.1 212.1,1157.0 223.8,1153.3 235.8,1151.2 241.2,1151.1 251.0,1154.9 253.0,1154.9 256.6,1152.3 263.4,1141.8 267.6,1137.6"/>
<polyline class="c" stroke-dasharray="33.3 4000" stroke-dashoffset="0" points="267.6,1137.6 279.2,1135.0 291.1,1138.4 298.1,1142.2 304.3,1153.0 306.6,1156.4 308.0,1157.0 309.3,1156.7"/>
<polyline class="c" stroke-dasharray="33.3 4000" stroke-dashoffset="0" points="309.3,1156.7 320.0,1150.7 330.9,1145.7 340.8,1143.4 350.4,1146.2 356.0,1152.1"/>
<polyline class="c" stroke-dasharray="33.3 4000" stroke-dashoffset="0" points="356.0,1152.1 359.6,1156.0 362.0,1157.0 371.8,1149.9 379.7,1140.5 388.4,1131.9 394.3,1127.0"/>
<polyline class="c" stroke-dasharray="33.3 4000" stroke-dashoffset="0" points="394.3,1127.0 404.8,1120.8 410.2,1119.4 421.8,1123.5 426.8,1128.9 431.6,1140.5 433.5,1144.8"/>
<polyline class="c" stroke-dasharray="33.3 4000" stroke-dashoffset="0" points="433.5,1144.8 439.1,1155.7 440.7,1156.9 441.8,1156.8 448.4,1146.6 454.4,1135.6 461.1,1125.7 462.6,1124.5"/>
<polyline class="c" stroke-dasharray="33.3 4000" stroke-dashoffset="0" points="462.6,1124.5 467.6,1122.1 475.2,1124.1 483.9,1132.9 489.2,1144.2 492.4,1155.7 493.5,1157.0 496.1,1149.0"/>
<polyline class="c" stroke-dasharray="33.3 4000" stroke-dashoffset="0" points="496.1,1149.0 501.6,1138.0 507.4,1127.0 511.4,1115.1 515.0,1105.5"/>
<polyline class="c" stroke-dasharray="33.3 4000" stroke-dashoffset="0" points="515.0,1105.5 519.7,1098.2 526.1,1094.4 528.5,1094.1 535.4,1096.9 541.9,1107.3 545.6,1118.6"/>
<polyline class="c" stroke-dasharray="33.3 4000" stroke-dashoffset="0" points="545.6,1118.6 549.7,1130.0 553.7,1141.3 557.1,1153.3 557.9,1156.2 558.6,1157.0 561.5,1145.0 563.1,1137.6"/>
<polyline class="c" stroke-dasharray="33.3 4000" stroke-dashoffset="0" points="563.1,1137.6 567.2,1125.9 572.0,1114.4 576.8,1102.8 579.9,1096.6 587.9,1095.3"/>
<polyline class="c" stroke-dasharray="33.3 4000" stroke-dashoffset="0" points="587.9,1095.3 588.7,1095.4 595.5,1105.8 601.3,1116.8 605.7,1128.5 608.7,1140.6 611.9,1152.7 613.5,1155.9 614.5,1156.5 615.9,1155.5 619.8,1143.7 622.7,1132.1 626.3,1120.1 626.5,1119.5"/>
<polyline class="c" stroke-dasharray="33.3 4000" stroke-dashoffset="0" points="626.5,1119.5 631.7,1108.3 637.7,1097.3 644.3,1086.7 648.5,1081.5 657.9,1080.8"/>
<polyline class="c" stroke-dasharray="33.3 4000" stroke-dashoffset="0" points="657.9,1080.8 660.0,1081.6 667.5,1091.6 673.3,1102.6 678.2,1114.2 682.1,1125.5 682.6,1127.0"/>
<polyline class="c" stroke-dasharray="33.3 4000" stroke-dashoffset="0" points="682.6,1127.0 686.7,1138.7 690.4,1150.7 691.7,1156.6 692.0,1157.0 692.8,1155.9 695.4,1143.7 697.0,1136.0"/>
<polyline class="c" stroke-dasharray="33.3 4000" stroke-dashoffset="0" points="697.0,1136.0 700.8,1124.5 704.7,1112.6 707.0,1100.3 708.6,1087.9 708.8,1086.6"/>
<polyline class="c" stroke-dasharray="33.3 4000" stroke-dashoffset="0" points="708.8,1086.6 712.3,1075.0 716.6,1063.8 719.9,1051.7 721.9,1039.4 722.6,1036.5"/>
<polyline class="c" stroke-dasharray="33.3 4000" stroke-dashoffset="0" points="722.6,1036.5 727.5,1025.3 731.0,1021.5 735.9,1020.5 742.4,1024.1 746.0,1028.8 747.9,1041.1 748.8,1048.0"/>
<polyline class="c" stroke-dasharray="33.3 4000" stroke-dashoffset="0" points="748.8,1048.0 751.9,1059.6 755.6,1071.1 758.5,1083.2 760.5,1095.0"/>
<polyline class="c" stroke-dasharray="33.3 4000" stroke-dashoffset="0" points="760.5,1095.0 762.5,1106.9 764.3,1119.0 765.5,1131.2 766.2,1143.7 766.4,1131.3 767.2,1118.9 768.3,1106.9 769.0,1099.9"/>
<polyline class="c" stroke-dasharray="33.3 19.4" stroke-dashoffset="0" points="769.0,1099.9 770.8,1087.6 772.7,1075.2 773.9,1063.3 774.9,1051.3 775.8,1039.4 776.6,1027.4 777.4,1015.4 778.0,1003.4 778.7,991.4 779.3,979.5 780.1,967.5 780.8,955.5 781.6,943.5 781.6,942.5"/>
<polyline class="c" stroke-dasharray="33.3 19.4" stroke-dashoffset="0" points="781.6,942.5 782.4,930.6 783.1,918.6 783.7,906.6 784.3,894.6 784.9,882.6 785.7,870.6 786.5,858.7 787.3,846.7 788.2,834.7 789.0,822.8 789.7,810.8 790.3,798.8 790.8,786.8 790.8,786.3"/>
<polyline class="c" stroke-dasharray="33.3 19.4" stroke-dashoffset="0" points="790.8,786.3 791.3,774.3 792.0,762.3 793.1,749.9 794.6,737.5 795.4,725.5 796.2,713.5 796.8,701.6 797.3,689.6 797.8,677.6 798.2,665.6 798.7,653.6 799.2,641.6 799.7,630.0"/>
<polyline class="c" stroke-dasharray="33.3 19.4" stroke-dashoffset="0" points="799.7,630.0 800.3,617.6 800.9,605.6 801.5,593.6 802.0,581.7 802.6,569.7 803.2,557.7 803.8,545.7 804.3,533.7 804.9,521.7 805.5,509.7 806.1,497.8 806.7,485.8 807.3,473.8 807.4,472.8"/>
<polyline class="c" stroke-dasharray="33.3 19.4" stroke-dashoffset="0" points="807.4,472.8 808.1,460.8 808.8,448.8 809.5,436.8 810.2,424.9 810.9,412.9 811.7,400.9 812.5,388.9 813.3,377.0 814.1,365.0 814.9,353.0 815.7,341.1 816.6,329.1 817.4,317.1 817.7,313.6"/>
<polyline class="c" stroke-dasharray="33.3 19.4" stroke-dashoffset="0" points="817.7,313.6 818.6,301.7 819.5,289.7 820.5,277.7 821.5,265.8 822.6,253.8 823.7,241.9 825.0,229.9 826.2,218.0 827.4,206.1 828.5,194.1 829.7,182.2 830.7,170.2 831.8,158.3"/>
<polyline class="c" stroke-dasharray="33.3 19.4" stroke-dashoffset="0" points="831.8,158.3 832.7,146.3 833.6,134.3 834.3,122.4 835.1,110.4 836.2,98.4 837.6,86.0 839.7,73.7 842.7,61.6 845.3,55.4"/>
<polyline class="c" stroke-dasharray="33.3 19.4" stroke-dashoffset="0" points="845.3,55.4 849.3,50.6 855.5,48.8 861.4,52.4 868.9,62.3 874.5,73.5 879.8,80.7 882.0,82.0 890.4,75.3 898.3,65.6 904.8,55.4 910.1,47.2 913.7,45.0 914.1,45.0 915.8,46.0 921.9,56.8 927.3,68.1 930.1,80.3 931.5,89.5"/>
<polyline class="c" stroke-dasharray="33.3 19.4" stroke-dashoffset="0" points="931.5,89.5 933.2,101.5 934.8,113.4 936.0,125.7 936.8,137.8 937.5,149.8 938.3,161.8 939.3,173.7 940.3,185.7 941.1,194.5"/>
<polyline class="c" stroke-dasharray="33.3 19.4" stroke-dashoffset="0" points="941.1,194.5 942.2,206.6 943.3,218.6 944.3,230.5 945.4,242.5 946.4,254.4 947.3,266.4 948.2,278.4 949.1,290.3 949.8,302.3 950.6,314.3 951.3,326.3 951.9,338.3 952.6,350.2 952.6,351.7"/>
<polyline class="c" stroke-dasharray="33.3 19.4" stroke-dashoffset="0" points="952.6,351.7 953.3,363.7 954.0,375.7 954.6,387.7 955.3,399.7 956.1,411.6 957.0,423.6 958.0,435.6 958.9,447.5 959.8,459.5 960.6,471.5 961.3,483.4 961.9,495.4 962.6,507.4 962.6,507.9"/>
<polyline class="c" stroke-dasharray="33.3 19.4" stroke-dashoffset="0" points="962.6,507.9 963.3,519.9 964.0,531.9 964.7,543.9 965.4,555.8 966.2,567.8 966.9,579.8 967.7,591.8 968.5,603.7 969.7,615.9 971.2,628.1 972.5,640.5 973.3,653.0 973.5,665.0 973.7,677.0 973.9,689.0 974.0,701.0 974.2,713.0 974.3,719.0"/>
<polyline class="c" stroke-dasharray="33.3 19.4" stroke-dashoffset="0" points="974.3,719.0 974.5,731.5 974.8,743.5 975.6,756.0 977.1,768.4 977.7,780.8 978.2,792.8 978.8,804.8 979.7,816.8 980.6,828.8 981.5,840.7 982.2,852.7 982.6,864.7 983.1,877.2 984.1,889.6 985.2,901.6 985.9,914.1 986.5,926.1 986.5,926.6"/>
<polyline class="c" stroke-dasharray="33.3 19.4" stroke-dashoffset="0" points="986.5,926.6 987.2,939.0 987.9,951.0 988.7,963.0 989.6,975.0 990.5,986.9 991.4,998.9 992.1,1010.9 992.5,1022.9 993.0,1035.4 993.9,1047.3 994.9,1059.3 995.8,1071.2 996.8,1083.2 996.8,1083.7"/>
<polyline class="c" stroke-dasharray="33.3 19.4" stroke-dashoffset="0" points="996.8,1083.7 997.8,1095.7 998.9,1107.6 1000.1,1119.6 1001.3,1131.5 1003.4,1143.8 1005.0,1149.9 1005.9,1137.4 1006.8,1125.5 1008.2,1113.0 1009.9,1101.2 1011.4,1091.0"/>
<polyline class="c" stroke-dasharray="33.3 4000" stroke-dashoffset="0" points="1011.4,1091.0 1012.9,1078.9 1014.2,1066.9 1015.4,1055.0 1016.8,1042.6 1019.4,1030.4 1023.3,1018.5 1023.4,1018.3"/>
<polyline class="c" stroke-dasharray="33.3 4000" stroke-dashoffset="0" points="1023.4,1018.3 1028.0,1008.0 1032.6,1005.2 1034.6,1005.1 1041.6,1009.6 1045.8,1021.3 1048.1,1031.5"/>
<polyline class="c" stroke-dasharray="33.3 4000" stroke-dashoffset="0" points="1048.1,1031.5 1051.6,1043.0 1055.3,1055.0 1057.5,1067.2 1058.9,1079.2 1059.4,1082.2"/>
<polyline class="c" stroke-dasharray="33.3 4000" stroke-dashoffset="0" points="1059.4,1082.2 1062.1,1094.2 1065.2,1105.9 1067.5,1118.2 1069.1,1130.6 1069.6,1133.2"/>
<polyline class="c" stroke-dasharray="33.3 4000" stroke-dashoffset="0" points="1069.6,1133.2 1073.4,1144.9 1076.9,1156.9 1077.3,1156.6 1078.6,1144.6 1079.5,1132.4 1079.8,1130.3"/>
<polyline class="c" stroke-dasharray="33.3 4000" stroke-dashoffset="0" points="1079.8,1130.3 1083.1,1118.3 1087.4,1107.1 1091.2,1095.3 1094.4,1083.2 1095.8,1079.3"/>
<polyline class="c" stroke-dasharray="33.3 4000" stroke-dashoffset="0" points="1095.8,1079.3 1101.2,1068.2 1107.0,1062.7 1112.1,1061.0 1118.9,1062.6 1126.5,1072.3 1127.9,1075.0"/>
<polyline class="c" stroke-dasharray="33.3 4000" stroke-dashoffset="0" points="1127.9,1075.0 1133.3,1086.2 1137.6,1098.0 1140.3,1110.2 1141.7,1122.2 1142.4,1126.0"/>
<polyline class="c" stroke-dasharray="33.3 4000" stroke-dashoffset="0" points="1142.4,1126.0 1146.6,1137.8 1151.2,1148.9 1153.5,1157.0 1155.3,1144.8 1156.2,1132.8 1157.0,1126.0"/>
<polyline class="c" stroke-dasharray="33.3 4000" stroke-dashoffset="0" points="1157.0,1126.0 1160.0,1114.3 1164.3,1102.5 1168.9,1090.9 1173.1,1081.9"/>
<polyline class="c" stroke-dasharray="33.3 4000" stroke-dashoffset="0" points="1173.1,1081.9 1177.9,1077.6 1180.3,1077.0 1187.1,1081.1 1194.0,1091.4 1197.2,1103.4 1199.3,1114.3"/>
<polyline class="c" stroke-dasharray="33.3 4000" stroke-dashoffset="0" points="1199.3,1114.3 1202.6,1126.3 1206.0,1137.8 1209.1,1149.9 1211.1,1156.9 1212.9,1144.6 1213.9,1136.0"/>
<polyline class="c" stroke-dasharray="33.3 4000" stroke-dashoffset="0" points="1213.9,1136.0 1216.8,1124.0 1220.4,1112.3 1224.1,1100.7 1228.4,1089.0"/>
<polyline class="c" stroke-dasharray="33.3 4000" stroke-dashoffset="0" points="1228.4,1089.0 1233.4,1081.4 1238.3,1079.1 1240.7,1079.2 1247.1,1083.0 1253.2,1093.8 1256.8,1105.8 1257.6,1108.4"/>
<polyline class="c" stroke-dasharray="33.3 4000" stroke-dashoffset="0" points="1257.6,1108.4 1262.0,1119.9 1266.4,1131.0 1270.2,1142.9 1272.9,1155.1 1274.0,1157.0 1276.5,1147.8"/>
<polyline class="c" stroke-dasharray="33.3 4000" stroke-dashoffset="0" points="1276.5,1147.8 1281.3,1136.6 1287.6,1125.9 1295.6,1116.3 1296.7,1115.3 1299.0,1114.5 1307.0,1115.7"/>
<polyline class="c" stroke-dasharray="33.3 4000" stroke-dashoffset="0" points="1307.0,1115.7 1311.9,1118.9 1318.7,1129.3 1324.3,1140.5 1330.0,1151.1 1333.7,1156.9 1334.0,1157.0 1334.5,1156.5 1336.2,1149.0"/>
<polyline class="c" stroke-dasharray="33.3 4000" stroke-dashoffset="0" points="1336.2,1149.0 1341.6,1137.9 1348.4,1127.4 1354.7,1116.7 1357.1,1114.7 1366.8,1115.7"/>
<polyline class="c" stroke-dasharray="33.3 4000" stroke-dashoffset="0" points="1366.8,1115.7 1377.4,1122.2 1386.2,1131.0 1393.9,1140.9 1400.8,1151.3 1404.7,1156.0 1406.0,1156.5 1406.8,1155.3 1409.0,1147.8"/>
<polyline class="c" stroke-dasharray="33.3 4000" stroke-dashoffset="0" points="1409.0,1147.8 1420.3,1143.6 1432.5,1142.8 1440.2,1143.6 1444.4,1146.1 1452.3,1155.2 1454.0,1156.3 1455.0,1156.5 1455.6,1156.4 1461.5,1147.8"/>
<polyline class="c" stroke-dasharray="33.3 4000" stroke-dashoffset="0" points="1461.5,1147.8 1471.9,1141.1 1481.7,1135.2 1492.0,1136.0"/>
<polyline class="c" stroke-dasharray="33.3 4000" stroke-dashoffset="0" points="1492.0,1136.0 1503.1,1141.7 1512.5,1149.1 1519.4,1155.7 1522.2,1156.5 1534.0,1154.2 1546.4,1153.7 1558.9,1154.9 1571.2,1156.9 1572.3,1157.0 1573.5,1156.2 1577.3,1144.4 1579.5,1137.6"/>
<polyline class="c" stroke-dasharray="33.3 4000" stroke-dashoffset="0" points="1579.5,1137.6 1586.3,1127.3 1594.1,1117.6 1597.5,1113.2"/>
</g>
<g stroke="#00FF00">
<polyline class="c" stroke-dasharray="27.7 8.3 8.3 8.3" stroke-dashoffset="44.3" points="762.8,921.8 761.6,933.7 760.3,945.7 759.3,957.7 758.5,970.1 757.8,982.1 756.7,994.5 755.3,1006.5 754.1,1018.9 753.3,1031.4 752.5,1043.4 751.5,1055.8 749.0,1068.0 744.7,1079.8 739.8,1091.3 737.2,1099.3 736.8,1111.8 736.5,1124.3 735.7,1136.8 734.5,1145.1 734.0,1146.0 731.4,1138.5 731.0,1138.0 730.6,1138.3 727.4,1149.7 722.0,1155.8 709.7,1155.8 705.7,1155.7 700.0,1153.5 694.0,1155.8 682.0,1155.8 677.0,1155.8 670.0,1151.3 663.0,1155.8 650.7,1155.8 638.7,1155.8 631.0,1155.8 625.0,1152.4 618.9,1155.8 606.9,1155.8 604.9,1155.7 599.9,1153.6 594.9,1155.8 582.9,1155.8 580.9,1155.7 575.0,1152.4 569.0,1155.8 556.6,1155.8 553.0,1155.8 549.4,1145.5 546.9,1142.5 544.5,1145.7 541.0,1155.8 538.0,1155.8 534.3,1147.2 532.0,1144.7 529.6,1147.3 526.0,1155.8 513.8,1155.8 510.8,1155.7 505.0,1153.5 499.0,1155.8 486.6,1155.8 479.0,1155.8 474.8,1147.3 472.0,1144.6 469.1,1147.6 465.0,1155.8 459.0,1155.8 454.5,1150.7 452.0,1149.1 445.0,1155.8 433.0,1155.8 428.0,1152.4 423.0,1155.8 419.0,1155.8 413.5,1149.0 410.0,1146.9 406.3,1149.2 400.9,1155.8 393.5,1155.7 388.7,1147.3 385.5,1144.6 382.3,1147.3 377.5,1155.8 365.2,1155.8 357.6,1155.8 353.4,1150.9 350.5,1149.2 343.6,1155.8 335.8,1155.7 330.0,1153.5 324.0,1155.8 311.5,1155.8 306.0,1155.8 301.2,1150.0 298.0,1148.0 294.5,1150.3 290.0,1155.8 277.6,1155.8 269.0,1155.8 262.0,1151.3 254.8,1155.8 242.8,1155.8 241.6,1155.8 236.2,1148.2 232.6,1145.8 228.8,1148.5 223.6,1155.8 211.6,1155.8 204.0,1155.8 198.0,1151.3 192.0,1155.8 185.0,1155.8 180.0,1153.5 175.5,1155.6"/>
<polyline class="c" stroke-dasharray="27.7 8.3 8.3 8.3" stroke-dashoffset="0" points="762.8,921.8 763.8,909.8 764.6,897.9 765.5,885.9 766.5,874.0 767.6,862.0 768.9,850.1 770.2,838.1 772.0,825.8 773.1,818.4"/>
<polyline class="c" stroke-dasharray="27.7 8.3 8.3 8.3" stroke-dashoffset="0" points="773.1,818.4 774.8,806.3 776.2,794.1 777.4,782.1 778.6,770.2 779.7,758.2 780.7,746.3 781.7,734.3 782.8,722.4 783.5,714.4"/>
<polyline class="c" stroke-dasharray="27.7 8.3 8.3 8.3" stroke-dashoffset="0" points="783.5,714.4 784.7,702.4 785.9,690.5 787.1,678.6 788.4,666.6 789.7,654.7 791.0,642.8 792.3,630.8 793.5,618.9 794.3,609.4"/>
<polyline class="c" stroke-dasharray="27.7 8.3 8.3 8.3" stroke-dashoffset="0" points="794.3,609.4 795.3,597.5 796.3,585.5 797.4,573.6 798.5,561.6 799.8,549.7 801.1,537.8 802.5,525.8 803.9,513.9 805.1,504.5"/>
<polyline class="c" stroke-dasharray="27.7 8.3 8.3 8.3" stroke-dashoffset="0" points="805.1,504.5 806.5,492.6 807.9,480.7 809.3,468.7 810.8,456.8 811.4,451.4"/>
<polyline class="c" stroke-dasharray="27.7 8.3 8.3 8.3" stroke-dashoffset="0" points="811.4,451.4 812.8,439.5 814.3,427.5 815.8,415.6 817.4,403.7 817.7,401.3"/>
<polyline class="c" stroke-dasharray="27.7 8.3 8.3 8.3" stroke-dashoffset="0" points="817.7,401.3 819.1,389.3 820.3,377.4 821.5,365.5 822.6,353.5 823.8,341.6 825.0,329.6 826.3,317.7 827.6,305.8 828.9,293.9 830.4,281.9 832.0,270.0 833.8,258.2 836.1,245.9 838.5,234.1 841.2,222.4 844.2,210.3 847.3,198.7 850.2,186.6 852.5,174.3 854.4,162.4 856.1,150.0 857.5,138.1 859.8,125.8 862.8,113.9 867.0,102.5 870.1,90.7 871.5,78.5 873.3,66.4 875.7,54.4 879.2,42.4 879.5,42.0 881.0,54.3 882.0,66.7 883.0,78.7 883.5,79.9 886.6,67.8 887.8,64.0 888.6,63.0 891.5,74.8 893.4,87.1 895.9,99.4 897.4,111.6 899.6,123.6 905.6,134.1 911.4,145.0 914.6,156.7 916.6,168.9 917.8,181.0 919.1,193.2 920.6,205.1 922.2,217.0 923.9,228.9 925.7,240.8 927.5,252.6 929.3,264.5 931.3,276.3 933.9,288.5 936.4,300.3 937.7,312.6 938.5,324.7 939.1,336.7 939.9,349.2 941.9,361.3 944.0,373.3 945.3,385.2 945.5,387.7"/>
<polyline class="c" stroke-dasharray="27.7 8.3 8.3 8.3" stroke-dashoffset="0" points="945.5,387.7 946.4,400.2 947.0,412.2 947.6,424.7 949.6,436.9 950.1,439.4"/>
<polyline class="c" stroke-dasharray="27.7 8.3 8.3 8.3" stroke-dashoffset="0" points="950.1,439.4 952.7,451.7 954.3,463.7 955.5,476.0 956.6,487.9 956.8,490.8"/>
<polyline class="c" stroke-dasharray="27.7 8.3 8.3 8.3" stroke-dashoffset="0" points="956.8,490.8 957.8,502.9 958.8,514.9 960.0,526.8 961.9,539.1 964.1,550.9 965.9,563.3 966.8,575.8 967.6,587.8 967.9,594.7"/>
<polyline class="c" stroke-dasharray="27.7 8.3 8.3 8.3" stroke-dashoffset="0" points="967.9,594.7 968.7,606.7 969.8,618.7 971.1,630.6 972.4,642.5 973.5,654.5 974.4,666.5 975.2,678.4 976.3,690.9 977.4,698.3"/>
<polyline class="c" stroke-dasharray="27.7 8.3 8.3 8.3" stroke-dashoffset="0" points="977.4,698.3 979.9,710.5 981.4,722.9 982.7,734.9 983.9,746.8 984.4,751.3"/>
<polyline class="c" stroke-dasharray="27.7 8.3 8.3 8.3" stroke-dashoffset="0" points="984.4,751.3 985.7,763.2 987.0,775.1 988.4,787.1 989.8,799.0 990.2,803.0"/>
<polyline class="c" stroke-dasharray="27.7 8.3 8.3 8.3" stroke-dashoffset="0" points="990.2,803.0 991.5,814.9 992.9,826.8 994.3,838.7 995.5,850.7 995.9,855.2"/>
<polyline class="c" stroke-dasharray="27.7 8.3 8.3 8.3" stroke-dashoffset="0" points="995.9,855.2 996.8,867.5 997.2,879.6 997.5,891.6 997.8,903.6 998.2,915.6 999.1,928.1 1002.0,940.2 1003.9,952.6 1005.2,964.5 1006.8,976.9 1008.7,988.7 1010.5,1001.1 1011.9,1013.0 1013.1,1025.0 1014.2,1036.9 1015.2,1048.9 1016.6,1060.8 1018.0,1072.7 1019.6,1084.6 1021.2,1096.5 1022.7,1108.4 1024.2,1120.3 1026.0,1132.7 1028.4,1145.0 1031.0,1154.7 1037.0,1154.7 1042.0,1152.4 1047.0,1154.7 1059.5,1154.7 1071.5,1154.7 1072.0,1154.7 1078.0,1148.0 1084.0,1154.7 1096.0,1154.7 1103.0,1146.9 1110.0,1154.7 1122.3,1154.7 1127.8,1154.4 1130.1,1153.6 1142.5,1154.7 1154.5,1154.7 1163.0,1154.7 1167.4,1146.2 1170.0,1143.5 1172.9,1146.6 1177.0,1154.7 1189.4,1154.7 1193.0,1154.7 1201.0,1148.0 1209.0,1154.7 1219.0,1154.7 1228.0,1146.9 1237.0,1154.7 1248.0,1154.4 1250.0,1153.5 1252.1,1154.4 1264.6,1154.7 1265.1,1154.5 1269.3,1145.5 1272.0,1142.4 1274.9,1145.7 1279.0,1154.7 1291.2,1154.7 1297.6,1154.4 1300.0,1153.5 1312.3,1154.7 1321.0,1154.7 1326.0,1148.0 1329.0,1145.8 1337.0,1154.7 1349.2,1154.6 1352.7,1154.4 1355.0,1153.6 1367.3,1154.7 1379.3,1154.7 1382.5,1154.7 1386.3,1143.5 1388.5,1140.2 1393.5,1151.6 1394.5,1154.7 1404.0,1154.7 1410.1,1149.1 1416.0,1154.7 1418.0,1154.7 1425.0,1149.1 1432.0,1154.7 1440.0,1154.7 1447.0,1148.0 1454.0,1154.7 1462.0,1154.7 1468.0,1148.0 1474.0,1154.7 1479.0,1154.7 1483.4,1148.1 1486.0,1145.8 1493.1,1154.7 1505.1,1154.7 1507.0,1154.6 1511.3,1147.2 1514.0,1144.6 1521.0,1154.6 1533.4,1154.7 1537.0,1154.7 1545.0,1146.9 1553.0,1154.7 1562.0,1154.7 1565.9,1146.1 1568.0,1143.5 1573.8,1154.1 1574.0,1154.7 1579.0,1154.7 1585.0,1149.1 1591.0,1154.7 1597.5,1154.7"/>
</g>
<polyline class="c" stroke="#00FFFF" points="175.5,1154.2 175.8,1154.2 178.7,1154.2 181.7,1154.2 184.6,1154.2 187.5,1154.2 190.4,1154.2 193.3,1154.2 196.2,1154.2 199.1,1154.2 202.1,1154.2 205.0,1154.2 207.9,1154.2 210.8,1154.2 213.7,1154.2 216.6,1154.2 219.5,1154.2 222.4,1154.2 225.4,1154.2 228.3,1154.2 231.2,1154.2 234.1,1154.2 237.0,1154.2 239.9,1154.2 242.8,1154.2 245.7,1154.2 248.7,1154.2 251.6,1154.2 254.5,1154.2 257.4,1154.2 260.3,1154.2 263.2,1154.2 266.1,1154.2 269.1,1154.2 272.0,1154.2 274.9,1154.2 277.8,1154.2 280.7,1154.2 283.6,1154.2 286.5,1154.2 289.4,1154.2 292.4,1154.2 295.3,1154.2 298.2,1154.2 301.1,1154.2 304.0,1154.2 306.9,1154.2 309.8,1154.2 312.7,1154.2 315.7,1154.2 318.6,1154.2 321.5,1154.2 324.4,1154.2 327.3,1154.2 330.2,1154.2 333.1,1154.2 336.0,1154.2 338.9,1154.2 341.9,1154.2 344.8,1154.2 347.7,1154.2 350.6,1154.2 353.5,1154.2 356.4,1154.2 359.3,1154.2 362.2,1154.2 365.2,1154.2 368.1,1154.2 371.0,1154.2 373.9,1154.2 376.8,1154.2 379.7,1154.2 382.6,1154.2 385.5,1154.2 388.5,1154.2 391.4,1154.2 394.3,1154.2 397.2,1154.2 400.1,1154.2 403.0,1154.2 405.9,1154.2 408.8,1154.2 411.7,1154.2 414.7,1154.2 417.6,1154.2 420.5,1154.2 423.4,1154.2 426.3,1154.2 429.2,1154.2 432.1,1154.2 435.0,1154.2 437.9,1154.2 440.9,1154.2 443.8,1154.2 446.7,1154.2 449.6,1154.2 452.5,1154.2 455.4,1154.2 458.3,1154.2 461.2,1154.2 464.1,1154.2 467.1,1154.2 470.0,1154.2 472.9,1154.2 475.8,1154.2 478.7,1154.2 481.6,1154.2 484.5,1154.2 487.4,1154.2 490.3,1154.2 493.3,1154.2 496.2,1154.2 499.1,1154.2 502.0,1154.2 504.9,1154.2 507.8,1154.2 510.7,1154.2 513.6,1154.2 516.5,1154.2 519.4,1154.2 522.4,1154.2 525.3,1154.2 528.2,1154.2 531.1,1154.2 534.0,1154.2 536.9,1154.2 539.8,1154.2 542.7,1154.2 545.6,1154.2 548.6,1154.2 551.5,1154.2 554.4,1154.2 557.3,1154.2 560.2,1154.2 563.1,1154.2 566.0,1154.2 568.9,1154.2 571.8,1154.2 574.7,1154.2 577.7,1154.2 580.6,1154.2 583.5,1154.2 586.4,1154.2 589.3,1154.2 592.2,1154.2 595.1,1154.2 598.0,1154.2 600.9,1154.2 603.8,1154.2 606.8,1154.2 609.7,1154.2 612.6,1154.2 615.5,1154.2 618.4,1154.2 621.3,1154.2 624.2,1154.2 627.1,1154.2 630.0,1154.2 632.9,1154.2 635.9,1154.2 638.8,1154.2 641.7,1154.2 644.6,1154.2 647.5,1154.2 650.4,1154.2 653.3,1154.2 656.2,1154.2 659.1,1154.2 662.0,1154.2 665.0,1154.2 667.9,1154.2 670.8,1154.2 673.7,1154.2 676.6,1154.2 679.5,1154.2 682.4,1154.2 685.3,1154.2 688.2,1154.2 691.1,1154.2 694.1,1154.2 697.0,1154.2 699.9,1154.2 700.0,1154.2 702.8,1154.2 705.7,1154.2 708.6,1154.1 711.6,1154.1 714.5,1154.0 717.4,1154.0 720.4,1153.9 723.3,1153.8 726.3,1153.6 729.2,1153.5 732.1,1153.4 735.0,1153.2 737.9,1153.0 740.8,1152.8 743.7,1152.6 746.5,1152.4 749.4,1152.1 751.0,1152.0 752.2,1151.9 755.0,1151.3 757.8,1150.4 760.6,1149.3 763.3,1148.2 766.0,1147.0 766.0,1147.0 768.6,1145.8 771.3,1144.5 773.9,1143.1 776.4,1141.6 778.8,1139.9 780.0,1139.0 781.0,1138.2 783.1,1136.3 785.2,1134.2 787.2,1132.0 789.1,1129.7 790.9,1127.3 792.5,1124.9 793.0,1124.0 793.9,1122.5 795.3,1120.0 796.6,1117.4 797.8,1114.7 799.0,1112.0 800.2,1109.3 801.2,1106.6 802.2,1103.8 803.2,1101.0 804.1,1098.2 804.9,1095.4 805.0,1095.0 805.6,1092.6 806.4,1089.8 807.0,1087.0 807.7,1084.2 808.3,1081.3 808.9,1078.4 809.4,1075.6 809.9,1072.7 810.5,1069.8 811.0,1066.9 811.5,1064.1 812.0,1061.2 812.0,1061.0 812.5,1058.3 813.0,1055.5 813.5,1052.6 814.0,1049.7 814.4,1046.8 814.8,1043.9 815.2,1041.1 815.5,1038.2 815.5,1038.0 815.7,1035.3 816.0,1032.4 816.2,1029.5 816.4,1026.6 816.6,1023.7 816.8,1020.8 817.0,1017.9 817.2,1015.0 817.4,1012.1 817.5,1009.1 817.7,1006.2 817.8,1003.3 818.0,1000.4 818.1,997.5 818.3,994.6 818.4,991.7 818.5,988.8 818.7,985.9 818.8,983.0 819.0,980.0 819.0,980.0 819.2,977.1 819.3,974.2 819.5,971.3 819.6,968.4 819.8,965.5 819.9,962.6 820.1,959.7 820.2,956.8 820.4,953.9 820.5,951.0 820.7,948.1 820.8,945.2 821.0,942.3 821.1,939.3 821.3,936.4 821.4,933.5 821.6,930.6 821.7,927.7 821.8,924.8 822.0,921.9 822.1,919.0 822.3,916.1 822.4,913.2 822.5,910.3 822.7,907.4 822.8,904.4 822.9,901.5 823.0,900.0 823.1,898.6 823.2,895.7 823.3,892.8 823.4,889.9 823.6,887.0 823.7,884.1 823.8,881.2 824.0,878.3 824.1,875.4 824.2,872.5 824.3,869.5 824.4,866.6 824.6,863.7 824.7,860.8 824.8,857.9 824.9,855.0 825.0,852.1 825.2,849.2 825.3,846.3 825.4,843.4 825.5,840.5 825.6,837.5 825.7,834.6 825.8,831.7 826.0,828.8 826.1,825.9 826.2,823.0 826.3,820.1 826.4,817.2 826.5,814.3 826.6,811.4 826.7,808.4 826.8,805.5 826.9,802.6 827.0,800.0 827.0,799.7 827.1,796.8 827.2,793.9 827.3,791.0 827.4,788.1 827.5,785.2 827.6,782.3 827.7,779.4 827.8,776.4 827.9,773.5 828.0,770.6 828.1,767.7 828.1,764.8 828.2,761.9 828.3,759.0 828.4,756.1 828.5,753.2 828.6,750.3 828.7,747.3 828.8,744.4 828.8,741.5 828.9,738.6 829.0,735.7 829.1,732.8 829.2,729.9 829.3,727.0 829.3,724.1 829.4,721.1 829.5,718.2 829.6,715.3 829.7,712.4 829.7,709.5 829.8,706.6 829.9,703.7 830.0,700.8 830.0,700.0 830.1,697.9 830.1,695.0 830.2,692.0 830.3,689.1 830.4,686.2 830.4,683.3 830.5,680.4 830.6,677.5 830.7,674.6 830.8,671.7 830.8,668.8 830.9,665.9 831.0,662.9 831.1,660.0 831.1,657.1 831.2,654.2 831.3,651.3 831.3,648.4 831.4,645.5 831.5,642.6 831.6,639.7 831.6,636.7 831.7,633.8 831.8,630.9 831.8,628.0 831.9,625.1 832.0,622.2 832.1,619.3 832.1,616.4 832.2,613.5 832.3,610.6 832.3,607.6 832.4,604.7 832.5,601.8 832.5,600.0 832.5,598.9 832.6,596.0 832.7,593.1 832.7,590.2 832.8,587.3 832.9,584.4 832.9,581.4 833.0,578.5 833.1,575.6 833.1,572.7 833.2,569.8 833.3,566.9 833.3,564.0 833.4,561.1 833.5,558.2 833.5,555.2 833.6,552.3 833.7,549.4 833.7,546.5 833.8,543.6 833.9,540.7 833.9,537.8 834.0,534.9 834.1,532.0 834.1,529.1 834.2,526.1 834.2,523.2 834.3,520.3 834.4,517.4 834.4,514.5 834.5,511.6 834.5,508.7 834.6,505.8 834.6,502.9 834.7,499.9 834.7,497.0 834.8,494.1 834.8,491.2 834.9,488.3 834.9,485.4 835.0,482.5 835.0,480.0 835.0,479.6 835.0,476.7 835.1,473.7 835.1,470.8 835.2,467.9 835.2,465.0 835.2,462.1 835.3,459.2 835.3,456.3 835.3,453.4 835.4,450.5 835.4,447.5 835.4,444.6 835.5,441.7 835.5,438.8 835.5,435.9 835.5,433.0 835.6,430.1 835.6,427.2 835.6,424.3 835.6,421.3 835.7,418.4 835.7,415.5 835.7,412.6 835.8,409.7 835.8,406.8 835.8,403.9 835.8,401.0 835.9,398.1 835.9,395.1 835.9,392.2 835.9,389.3 836.0,386.4 836.0,383.5 836.0,380.6 836.0,377.7 836.1,374.8 836.1,371.9 836.1,368.9 836.1,366.0 836.2,363.1 836.2,360.2 836.2,357.3 836.2,354.4 836.3,351.5 836.3,348.6 836.3,345.7 836.4,342.7 836.4,339.8 836.4,336.9 836.5,334.0 836.5,331.1 836.5,330.0 836.5,328.2 836.6,325.3 836.6,322.4 836.6,319.4 836.7,316.5 836.7,313.6 836.7,310.7 836.8,307.8 836.8,304.9 836.8,302.0 836.9,299.1 836.9,296.2 836.9,293.2 837.0,290.3 837.0,287.4 837.0,284.5 837.1,281.6 837.1,278.7 837.1,275.8 837.2,272.9 837.2,270.0 837.3,267.0 837.3,264.1 837.3,261.2 837.4,258.3 837.4,255.4 837.4,252.5 837.5,249.6 837.5,246.7 837.6,243.8 837.6,240.8 837.6,237.9 837.7,235.0 837.7,232.1 837.8,229.2 837.8,226.3 837.8,223.4 837.9,220.5 837.9,217.6 838.0,214.6 838.0,211.7 838.1,208.8 838.1,205.9 838.1,203.0 838.2,200.1 838.2,197.2 838.3,194.3 838.3,191.4 838.4,188.4 838.4,185.5 838.5,182.6 838.5,180.0 838.5,179.7 838.6,176.8 838.6,173.9 838.7,171.0 838.7,168.1 838.8,165.2 838.8,162.2 838.9,159.3 838.9,156.4 839.0,153.5 839.0,150.6 839.1,147.7 839.1,144.8 839.2,141.9 839.3,139.0 839.3,136.1 839.4,133.1 839.4,130.2 839.5,127.3 839.6,124.4 839.6,121.5 839.7,118.6 839.7,115.7 839.8,112.8 839.9,109.9 839.9,106.9 840.0,104.0 840.1,101.1 840.1,98.2 840.2,95.3 840.2,92.4 840.3,90.0 840.3,89.5 840.4,86.6 840.4,83.7 840.5,80.7 840.6,77.8 840.6,74.9 840.7,72.0 840.8,69.1 840.8,66.2 840.9,63.3 841.0,60.4 841.1,57.5 841.1,54.6 841.2,51.6 841.3,48.7 841.4,45.8 841.4,42.9 841.5,40.0 841.6,42.9 841.6,45.8 841.7,48.7 841.8,51.6 841.8,54.4 841.9,57.3 842.0,60.2 842.0,63.1 842.1,66.0 842.1,68.9 842.2,71.8 842.3,74.7 842.3,77.5 842.4,80.4 842.5,83.3 842.5,86.2 842.6,89.1 842.6,90.0 842.6,92.0 842.7,94.9 842.8,97.8 842.8,100.7 842.9,103.5 842.9,106.4 843.0,109.3 843.0,112.2 843.1,115.1 843.2,118.0 843.2,120.0 843.2,120.9 843.3,123.8 843.3,126.7 843.4,129.5 843.5,132.4 843.5,135.3 843.6,138.2 843.6,141.1 843.7,144.0 843.8,146.9 843.8,149.8 843.9,152.6 844.0,155.5 844.0,158.4 844.1,161.3 844.2,164.2 844.2,167.1 844.3,170.0 844.3,172.9 844.4,175.8 844.5,178.6 844.5,180.0 844.5,181.5 844.6,184.4 844.7,187.3 844.7,190.2 844.8,193.1 844.8,196.0 844.9,198.9 845.0,201.8 845.0,204.6 845.1,207.5 845.2,210.4 845.2,213.3 845.3,216.2 845.3,219.1 845.4,222.0 845.5,224.9 845.5,227.7 845.6,230.6 845.7,233.5 845.7,236.4 845.8,239.3 845.8,242.2 845.9,245.1 846.0,248.0 846.0,250.0 846.0,250.9 846.1,253.7 846.1,256.6 846.2,259.5 846.3,262.4 846.3,265.3 846.4,268.2 846.5,271.1 846.5,274.0 846.6,276.9 846.7,279.7 846.7,282.6 846.8,285.5 846.9,288.4 846.9,291.3 847.0,294.2 847.1,297.1 847.1,300.0 847.2,302.8 847.2,305.7 847.3,308.6 847.3,311.5 847.4,314.4 847.4,317.3 847.5,320.2 847.5,323.1 847.6,326.0 847.6,328.8 847.6,330.0 847.6,331.7 847.6,334.6 847.7,337.5 847.7,340.4 847.7,343.3 847.8,346.2 847.8,349.1 847.8,352.0 847.8,354.8 847.8,357.7 847.9,360.6 847.9,363.5 847.9,366.4 847.9,369.3 847.9,372.2 848.0,375.1 848.0,378.0 848.0,380.8 848.0,383.7 848.0,386.6 848.0,389.5 848.0,392.4 848.1,395.3 848.1,398.2 848.1,401.1 848.1,404.0 848.1,406.9 848.1,409.7 848.1,412.6 848.2,415.5 848.2,418.4 848.2,421.3 848.2,424.2 848.2,427.1 848.2,430.0 848.2,432.9 848.3,435.7 848.3,438.6 848.3,441.5 848.3,444.4 848.3,447.3 848.4,450.2 848.4,453.1 848.4,456.0 848.4,458.9 848.4,461.7 848.5,464.6 848.5,467.5 848.5,470.4 848.5,473.3 848.6,476.2 848.6,479.1 848.6,480.0 848.6,482.0 848.7,484.9 848.7,487.7 848.7,490.6 848.8,493.5 848.8,496.4 848.8,499.3 848.9,502.2 848.9,505.1 849.0,508.0 849.0,510.9 849.1,513.7 849.1,516.6 849.2,519.5 849.3,522.4 849.3,525.3 849.4,528.2 849.4,531.1 849.5,534.0 849.6,536.8 849.6,539.7 849.7,542.6 849.8,545.5 849.8,548.4 849.9,551.3 850.0,554.2 850.0,557.1 850.1,560.0 850.2,562.8 850.2,565.7 850.3,568.6 850.4,571.5 850.5,574.4 850.5,577.3 850.6,580.2 850.7,583.1 850.7,586.0 850.8,588.8 850.9,591.7 851.0,594.6 851.0,597.5 851.1,600.4 851.2,603.3 851.2,606.2 851.3,609.1 851.4,611.9 851.5,614.8 851.5,617.7 851.6,620.6 851.7,623.5 851.7,626.4 851.8,629.3 851.8,630.0 851.8,632.2 851.9,635.1 852.0,637.9 852.0,640.8 852.1,643.7 852.2,646.6 852.2,649.5 852.3,652.4 852.3,655.3 852.4,658.2 852.5,661.1 852.5,663.9 852.6,666.8 852.6,669.7 852.7,672.6 852.7,675.5 852.8,678.4 852.9,681.3 852.9,684.2 853.0,687.0 853.0,689.9 853.1,692.8 853.2,695.7 853.2,698.6 853.3,701.5 853.3,704.4 853.4,707.3 853.5,710.2 853.5,713.0 853.6,715.9 853.6,718.8 853.7,721.7 853.8,724.6 853.8,727.5 853.9,730.4 854.0,733.3 854.0,736.2 854.1,739.0 854.2,741.9 854.2,744.8 854.3,747.7 854.4,750.6 854.5,753.5 854.5,756.4 854.6,759.3 854.7,762.1 854.8,765.0 854.8,767.9 854.9,770.8 855.0,773.7 855.1,776.6 855.2,779.5 855.2,780.0 855.3,782.4 855.4,785.2 855.5,788.1 855.5,791.0 855.6,793.9 855.7,796.8 855.8,799.7 856.0,802.6 856.1,805.5 856.2,808.3 856.3,811.2 856.4,814.1 856.5,817.0 856.6,819.9 856.7,822.8 856.9,825.7 857.0,828.6 857.1,831.4 857.2,834.3 857.4,837.2 857.5,840.1 857.6,843.0 857.8,845.9 857.9,848.8 858.1,851.6 858.2,854.5 858.3,857.4 858.5,860.3 858.6,863.2 858.8,866.1 858.9,869.0 859.0,870.0 859.1,871.8 859.3,874.7 859.4,877.6 859.6,880.5 859.8,883.4 860.0,886.3 860.1,889.1 860.3,892.0 860.5,894.9 860.7,897.8 860.9,900.7 861.1,903.6 861.4,906.4 861.6,909.3 861.8,912.2 862.1,915.1 862.3,918.0 862.5,920.0 862.6,920.8 862.8,923.7 863.1,926.6 863.4,929.5 863.7,932.3 864.1,935.2 864.5,938.1 864.8,940.9 865.0,942.0 865.3,943.8 865.8,946.6 866.3,949.5 866.9,952.3 867.4,954.3 867.6,955.1 868.3,958.0 869.1,960.8 870.1,963.6 871.1,966.2 872.0,968.0 872.4,968.7 874.2,971.5 876.4,973.5 877.1,973.7 878.5,973.2 880.7,971.1 882.7,968.5 883.0,968.0 884.2,966.1 885.5,963.6 886.7,960.9 887.8,958.2 888.8,955.4 889.2,954.3 889.8,952.7 890.7,949.9 891.5,947.2 892.3,944.4 893.0,942.0 893.1,941.6 894.0,938.9 894.9,936.1 895.7,933.3 896.4,930.5 896.5,930.0 896.9,927.7 897.5,924.9 897.9,922.1 898.4,919.2 898.9,916.4 899.3,913.5 899.7,910.6 900.1,907.8 900.4,904.9 900.8,902.0 901.1,899.1 901.4,896.2 901.7,893.4 902.0,890.5 902.3,887.6 902.6,884.7 902.8,881.8 903.0,880.0 903.1,879.0 903.3,876.1 903.6,873.2 903.8,870.3 904.0,867.5 904.3,864.6 904.5,861.7 904.7,858.8 904.9,855.9 905.1,853.1 905.3,850.2 905.5,847.3 905.7,844.4 905.9,841.5 906.1,838.6 906.3,835.8 906.4,832.9 906.6,830.0 906.8,827.1 907.0,824.2 907.1,821.3 907.3,818.4 907.4,815.6 907.6,812.7 907.7,809.8 907.9,806.9 908.0,804.0 908.2,801.1 908.3,798.2 908.5,795.4 908.6,792.5 908.8,789.6 908.9,786.7 909.0,783.8 909.2,780.9 909.2,780.0 909.3,778.0 909.4,775.2 909.5,772.3 909.7,769.4 909.8,766.5 909.9,763.6 910.0,760.7 910.2,757.8 910.3,754.9 910.4,752.1 910.5,749.2 910.6,746.3 910.7,743.4 910.9,740.5 911.0,737.6 911.1,734.7 911.2,731.9 911.3,729.0 911.4,726.1 911.5,723.2 911.6,720.3 911.7,717.4 911.8,714.5 911.9,711.6 912.0,708.8 912.1,705.9 912.2,703.0 912.3,700.1 912.4,697.2 912.5,694.3 912.6,691.4 912.7,688.5 912.8,685.7 912.9,682.8 913.0,679.9 913.1,677.0 913.1,674.1 913.2,671.2 913.3,668.3 913.4,665.4 913.5,662.5 913.6,659.7 913.7,656.8 913.8,653.9 913.9,651.0 913.9,648.1 914.0,645.2 914.1,642.3 914.2,639.4 914.3,636.6 914.4,633.7 914.5,630.8 914.5,630.0 914.6,627.9 914.7,625.0 914.7,622.1 914.8,619.2 914.9,616.3 915.0,613.5 915.1,610.6 915.2,607.7 915.3,604.8 915.3,601.9 915.4,599.0 915.5,596.1 915.6,593.2 915.7,590.4 915.8,587.5 915.8,584.6 915.9,581.7 916.0,578.8 916.1,575.9 916.2,573.0 916.2,570.1 916.3,567.2 916.4,564.4 916.5,561.5 916.6,558.6 916.6,555.7 916.7,552.8 916.8,549.9 916.9,547.0 917.0,544.1 917.0,541.3 917.1,538.4 917.2,535.5 917.3,532.6 917.3,529.7 917.4,526.8 917.5,523.9 917.5,521.0 917.6,518.2 917.7,515.3 917.8,512.4 917.8,509.5 917.9,506.6 918.0,503.7 918.0,500.8 918.1,497.9 918.2,495.0 918.2,492.2 918.3,489.3 918.4,486.4 918.4,483.5 918.5,480.6 918.5,480.0 918.5,477.7 918.6,474.8 918.7,471.9 918.7,469.0 918.8,466.2 918.9,463.3 918.9,460.4 919.0,457.5 919.0,454.6 919.1,451.7 919.2,448.8 919.2,445.9 919.3,443.1 919.3,440.2 919.4,437.3 919.4,434.4 919.5,431.5 919.6,428.6 919.6,425.7 919.7,422.8 919.7,419.9 919.8,417.1 919.8,414.2 919.9,411.3 919.9,408.4 920.0,405.5 920.0,402.6 920.1,399.7 920.1,396.8 920.2,393.9 920.2,391.1 920.3,388.2 920.3,385.3 920.4,382.4 920.4,379.5 920.5,376.6 920.5,373.7 920.6,370.8 920.6,367.9 920.6,365.1 920.7,362.2 920.7,359.3 920.8,356.4 920.8,354.6 920.8,353.5 920.9,350.6 920.9,347.7 920.9,344.8 921.0,341.9 921.0,339.1 921.0,336.2 921.1,333.3 921.1,330.4 921.1,327.5 921.2,324.6 921.2,321.7 921.2,318.8 921.3,315.9 921.3,313.1 921.3,310.2 921.3,307.3 921.4,304.4 921.4,301.5 921.4,298.6 921.5,295.7 921.5,292.8 921.5,289.9 921.6,287.1 921.6,284.2 921.6,281.3 921.6,278.4 921.7,275.5 921.7,272.6 921.7,269.7 921.8,266.8 921.8,263.9 921.9,261.1 921.9,258.2 921.9,255.3 922.0,252.4 922.0,250.0 922.0,249.5 922.0,246.6 922.1,243.7 922.1,240.8 922.2,237.9 922.2,235.1 922.3,232.2 922.3,229.3 922.4,226.4 922.4,223.5 922.5,220.6 922.5,217.7 922.6,214.8 922.6,211.9 922.7,209.1 922.7,206.2 922.8,203.3 922.9,200.4 922.9,197.5 923.0,194.6 923.0,191.7 923.1,188.8 923.1,186.0 923.2,183.1 923.3,180.2 923.3,177.3 923.4,174.4 923.4,171.5 923.5,168.6 923.6,165.7 923.6,162.8 923.7,160.0 923.7,160.0 923.8,157.1 923.8,154.2 923.9,151.3 923.9,148.4 924.0,145.5 924.1,142.6 924.1,139.7 924.2,136.8 924.3,134.0 924.3,131.1 924.4,128.2 924.5,125.3 924.6,122.4 924.7,119.5 924.8,116.6 924.9,113.7 925.0,110.9 925.0,110.0 925.1,107.8 925.3,104.2 925.4,100.4 925.7,96.7 925.9,93.3 926.1,90.5 926.3,88.8 926.5,88.3 926.5,88.3 926.7,89.3 927.0,91.4 927.2,94.4 927.4,97.9 927.6,101.8 927.8,105.5 928.0,108.9 928.0,110.0 928.1,111.9 928.2,114.7 928.3,117.6 928.4,120.5 928.5,123.4 928.6,126.3 928.7,129.2 928.8,132.1 928.9,135.0 929.0,137.8 929.0,140.7 929.1,143.6 929.2,146.5 929.3,149.4 929.3,152.3 929.4,155.2 929.5,158.1 929.5,160.0 929.5,161.0 929.6,163.8 929.6,166.7 929.7,169.6 929.8,172.5 929.8,175.4 929.9,178.3 929.9,181.2 930.0,184.1 930.0,187.0 930.1,189.8 930.1,192.7 930.2,195.6 930.2,198.5 930.2,201.4 930.3,204.3 930.3,207.2 930.4,210.1 930.4,213.0 930.5,215.8 930.5,218.7 930.5,221.6 930.6,224.5 930.6,227.4 930.7,230.3 930.7,233.2 930.8,236.1 930.8,239.0 930.9,241.8 930.9,244.7 931.0,247.6 931.0,250.0 931.0,250.5 931.1,253.4 931.1,256.3 931.2,259.2 931.2,262.1 931.3,265.0 931.3,267.8 931.4,270.7 931.4,273.6 931.5,276.5 931.5,279.4 931.6,282.3 931.6,285.2 931.7,288.1 931.7,290.9 931.8,293.8 931.9,296.7 931.9,299.6 932.0,302.5 932.0,305.4 932.1,308.3 932.1,311.2 932.2,314.1 932.2,316.9 932.3,319.8 932.4,322.7 932.4,325.6 932.5,328.5 932.5,330.0 932.5,331.4 932.6,334.3 932.6,337.2 932.7,340.1 932.8,342.9 932.8,345.8 932.9,348.7 932.9,351.6 933.0,354.5 933.0,357.4 933.1,360.3 933.2,363.2 933.2,366.1 933.3,368.9 933.3,371.8 933.4,374.7 933.5,377.6 933.5,380.5 933.6,383.4 933.6,386.3 933.7,389.2 933.8,392.0 933.8,394.9 933.9,397.8 933.9,400.7 934.0,403.6 934.1,406.5 934.1,409.4 934.2,412.3 934.2,415.2 934.3,418.0 934.4,420.9 934.4,423.8 934.5,426.7 934.5,429.6 934.6,432.5 934.7,435.4 934.7,438.3 934.8,441.2 934.8,444.0 934.9,446.9 935.0,449.8 935.0,452.7 935.1,455.6 935.2,458.5 935.2,461.4 935.3,464.3 935.3,467.1 935.4,470.0 935.5,472.9 935.5,475.8 935.6,478.7 935.6,480.0 935.6,481.6 935.7,484.5 935.8,487.4 935.8,490.3 935.9,493.1 935.9,496.0 936.0,498.9 936.1,501.8 936.1,504.7 936.2,507.6 936.3,510.5 936.3,513.4 936.4,516.3 936.5,519.1 936.5,522.0 936.6,524.9 936.7,527.8 936.7,530.7 936.8,533.6 936.9,536.5 936.9,539.4 937.0,542.2 937.1,545.1 937.1,548.0 937.2,550.9 937.3,553.8 937.3,556.7 937.4,559.6 937.5,562.5 937.5,565.4 937.6,568.2 937.6,571.1 937.7,574.0 937.8,576.9 937.8,579.8 937.9,582.7 937.9,585.6 938.0,588.5 938.1,591.4 938.1,594.2 938.2,597.1 938.2,600.0 938.3,602.9 938.3,605.8 938.4,608.7 938.4,611.6 938.5,614.5 938.5,617.3 938.6,620.2 938.6,623.1 938.6,626.0 938.7,628.9 938.7,630.0 938.7,631.8 938.8,634.7 938.8,637.6 938.8,640.5 938.9,643.3 938.9,646.2 938.9,649.1 939.0,652.0 939.0,654.9 939.0,657.8 939.0,660.7 939.1,663.6 939.1,666.5 939.1,669.3 939.1,672.2 939.2,675.1 939.2,678.0 939.2,680.9 939.2,683.8 939.3,686.7 939.3,689.6 939.3,692.5 939.3,695.4 939.4,698.2 939.4,701.1 939.4,704.0 939.4,706.9 939.4,709.8 939.5,712.7 939.5,715.6 939.5,718.5 939.5,721.4 939.6,724.2 939.6,727.1 939.6,730.0 939.6,732.9 939.7,735.8 939.7,738.7 939.7,741.6 939.7,744.5 939.8,747.4 939.8,750.2 939.8,753.1 939.9,756.0 939.9,758.9 939.9,761.8 940.0,764.7 940.0,767.6 940.1,770.5 940.1,773.4 940.1,776.2 940.2,779.1 940.2,780.0 940.2,782.0 940.3,784.9 940.3,787.8 940.4,790.7 940.5,793.6 940.5,796.5 940.6,799.3 940.7,802.2 940.7,805.1 940.8,808.0 940.9,810.9 941.0,813.8 941.1,816.7 941.2,819.6 941.3,822.4 941.4,825.3 941.5,828.2 941.6,831.1 941.7,834.0 941.8,836.9 941.9,839.8 942.0,842.7 942.1,845.5 942.2,848.4 942.4,851.3 942.5,854.2 942.6,857.1 942.7,860.0 942.8,862.9 943.0,865.8 943.1,868.6 943.2,871.5 943.3,874.4 943.5,877.3 943.6,880.2 943.7,883.1 943.8,886.0 944.0,888.8 944.1,891.7 944.2,894.6 944.3,897.5 944.5,900.4 944.6,903.3 944.7,906.2 944.8,909.1 945.0,911.9 945.1,914.8 945.2,917.7 945.3,920.6 945.4,923.5 945.6,926.4 945.7,929.3 945.7,930.0 945.8,932.2 945.9,935.0 946.0,937.9 946.1,940.8 946.2,943.7 946.3,946.6 946.4,949.5 946.5,952.4 946.5,955.3 946.6,958.2 946.7,961.1 946.8,964.0 946.9,966.9 947.0,969.8 947.1,972.7 947.1,975.5 947.2,978.4 947.3,981.3 947.4,984.2 947.5,987.1 947.6,990.0 947.8,992.9 947.9,995.8 948.0,998.7 948.1,1001.6 948.3,1004.4 948.4,1007.3 948.6,1010.2 948.7,1013.1 948.9,1015.9 949.1,1018.8 949.3,1021.7 949.5,1024.6 949.7,1027.4 949.9,1030.0 949.9,1030.3 950.3,1033.1 950.8,1036.0 951.4,1038.8 951.6,1040.0 951.9,1041.7 952.3,1044.5 952.7,1047.4 953.1,1050.3 953.5,1053.1 953.9,1056.0 954.4,1058.9 954.8,1061.7 955.2,1064.6 955.7,1067.4 956.0,1069.0 956.2,1070.2 956.8,1073.1 957.3,1075.9 957.9,1078.8 958.5,1081.6 959.1,1084.4 959.7,1087.3 960.4,1090.1 961.1,1092.9 961.8,1095.7 962.6,1098.5 963.3,1101.0 963.4,1101.2 964.2,1104.0 965.0,1106.8 965.9,1109.6 966.9,1112.4 967.9,1115.2 968.9,1117.9 970.1,1120.6 971.3,1123.2 972.5,1125.7 973.5,1127.4 973.9,1128.1 975.4,1130.5 977.2,1132.9 979.0,1135.2 981.0,1137.5 983.1,1139.6 985.3,1141.5 987.6,1143.1 988.0,1143.4 989.9,1144.6 992.4,1145.9 995.0,1147.2 997.8,1148.3 1000.6,1149.3 1003.4,1150.2 1005.5,1150.7 1006.2,1150.9 1009.0,1151.5 1011.8,1152.1 1014.6,1152.7 1017.5,1153.2 1020.4,1153.6 1023.3,1153.8 1026.2,1154.0 1027.0,1154.0 1029.1,1154.0 1031.9,1154.0 1034.8,1154.0 1037.7,1154.1 1040.6,1154.1 1043.4,1154.1 1046.3,1154.1 1049.2,1154.1 1052.1,1154.1 1055.0,1154.1 1057.9,1154.1 1060.8,1154.2 1063.7,1154.2 1066.6,1154.2 1069.5,1154.2 1072.4,1154.2 1075.3,1154.2 1078.2,1154.2 1081.0,1154.2 1083.9,1154.2 1086.8,1154.2 1089.7,1154.2 1092.6,1154.2 1095.5,1154.2 1098.4,1154.2 1100.0,1154.2 1101.3,1154.2 1104.2,1154.2 1107.1,1154.2 1110.0,1154.2 1112.9,1154.2 1115.7,1154.2 1118.6,1154.2 1121.5,1154.2 1124.4,1154.2 1127.3,1154.2 1130.2,1154.2 1133.1,1154.2 1136.0,1154.2 1138.9,1154.2 1141.7,1154.2 1144.6,1154.2 1147.5,1154.2 1150.4,1154.2 1153.3,1154.2 1156.2,1154.2 1159.1,1154.2 1162.0,1154.2 1164.9,1154.2 1167.7,1154.2 1170.6,1154.2 1173.5,1154.2 1176.4,1154.2 1179.3,1154.2 1182.2,1154.2 1185.1,1154.2 1188.0,1154.2 1190.9,1154.2 1193.7,1154.2 1196.6,1154.2 1199.5,1154.2 1202.4,1154.2 1205.3,1154.2 1208.2,1154.2 1211.1,1154.2 1214.0,1154.2 1216.9,1154.2 1219.7,1154.2 1222.6,1154.2 1225.5,1154.2 1228.4,1154.2 1231.3,1154.2 1234.2,1154.2 1237.1,1154.2 1240.0,1154.2 1242.9,1154.2 1245.7,1154.2 1248.6,1154.2 1251.5,1154.2 1254.4,1154.2 1257.3,1154.2 1260.2,1154.2 1263.1,1154.2 1266.0,1154.2 1268.9,1154.2 1271.8,1154.2 1274.6,1154.2 1277.5,1154.2 1280.4,1154.2 1283.3,1154.2 1286.2,1154.2 1289.1,1154.2 1292.0,1154.2 1294.9,1154.2 1297.8,1154.2 1300.6,1154.2 1303.5,1154.2 1306.4,1154.2 1309.3,1154.2 1312.2,1154.2 1315.1,1154.2 1318.0,1154.2 1320.9,1154.2 1323.8,1154.2 1326.6,1154.2 1329.5,1154.2 1332.4,1154.2 1335.3,1154.2 1338.2,1154.2 1341.1,1154.2 1344.0,1154.2 1346.9,1154.2 1349.8,1154.2 1352.6,1154.2 1355.5,1154.2 1358.4,1154.2 1361.3,1154.2 1364.2,1154.2 1367.1,1154.2 1370.0,1154.2 1372.9,1154.2 1375.8,1154.2 1378.6,1154.2 1381.5,1154.2 1384.4,1154.2 1387.3,1154.2 1390.2,1154.2 1393.1,1154.2 1396.0,1154.2 1398.9,1154.2 1401.8,1154.2 1404.7,1154.2 1407.5,1154.2 1410.4,1154.2 1413.3,1154.2 1416.2,1154.2 1419.1,1154.2 1422.0,1154.2 1424.9,1154.2 1427.8,1154.2 1430.7,1154.2 1433.5,1154.2 1436.4,1154.2 1439.3,1154.2 1442.2,1154.2 1445.1,1154.2 1448.0,1154.2 1450.9,1154.2 1453.8,1154.2 1456.7,1154.2 1459.5,1154.2 1462.4,1154.2 1465.3,1154.2 1468.2,1154.2 1471.1,1154.2 1474.0,1154.2 1476.9,1154.2 1479.8,1154.2 1482.7,1154.2 1485.5,1154.2 1488.4,1154.2 1491.3,1154.2 1494.2,1154.2 1497.1,1154.2 1500.0,1154.2 1502.9,1154.2 1505.8,1154.2 1508.7,1154.2 1511.5,1154.2 1514.4,1154.2 1517.3,1154.2 1520.2,1154.2 1523.1,1154.2 1526.0,1154.2 1528.9,1154.2 1531.8,1154.2 1534.7,1154.2 1537.6,1154.2 1540.4,1154.2 1543.3,1154.2 1546.2,1154.2 1549.1,1154.2 1552.0,1154.2 1554.9,1154.2 1557.8,1154.2 1560.7,1154.2 1563.6,1154.2 1566.4,1154.2 1569.3,1154.2 1572.2,1154.2 1575.1,1154.2 1578.0,1154.2 1580.9,1154.2 1583.8,1154.2 1586.7,1154.2 1589.6,1154.2 1592.4,1154.2 1595.3,1154.2 1597.5,1154.2"/>
<g stroke="#000000">
<polyline class="c" stroke-dasharray="33.3 19.4" stroke-dashoffset="33.3" points="786.0,1123.0 782.7,1134.7 778.5,1143.7 768.1,1149.9 756.5,1154.1 744.5,1157.5 732.0,1158.0 720.0,1158.0 708.0,1158.0 696.0,1158.0 684.0,1158.0 672.0,1158.0 660.0,1158.0 648.0,1158.0 636.0,1158.0 624.0,1158.0 612.0,1158.0 600.0,1158.0 588.0,1158.0 576.0,1158.0 564.0,1158.0 552.0,1158.0 540.0,1158.0 528.0,1158.0 516.0,1158.0 504.0,1158.0 492.0,1158.0 480.0,1158.0 468.0,1158.0 456.0,1158.0 444.0,1158.0 432.0,1158.0 420.0,1158.0 408.0,1158.0 396.0,1158.0 384.0,1158.0 372.0,1158.0 360.0,1158.0 348.0,1158.0 336.0,1158.0 324.0,1158.0 312.0,1158.0 300.0,1158.0 288.0,1158.0 276.0,1158.0 264.0,1158.0 252.0,1158.0 240.0,1158.0 228.0,1158.0 216.0,1158.0 204.0,1158.0 192.0,1158.0 180.0,1158.0 175.5,1158.0"/>
<polyline class="c" stroke-dasharray="33.3 19.4" stroke-dashoffset="0" points="786.0,1123.0 790.0,1111.3 793.5,1099.3 795.7,1087.5 797.3,1075.1 798.9,1063.2 800.5,1051.3 801.9,1039.4 803.1,1027.5 804.4,1015.1 805.8,1003.1 807.1,990.7 807.9,978.2 808.7,966.0 810.2,953.8 811.7,941.4 812.6,929.3 813.1,917.5"/>
<polyline class="c" stroke-dasharray="33.3 19.4" stroke-dashoffset="0" points="813.1,917.5 814.0,905.0 815.1,893.1 815.8,881.1 816.5,869.1 817.0,857.1 817.4,845.1 817.8,833.1 818.1,821.1 818.5,809.1 819.0,797.2 819.8,785.2 820.6,773.2 821.5,761.2 822.3,749.3 823.2,737.3 824.1,725.3 825.0,713.4 825.8,701.4 826.6,689.4 827.5,677.4 828.3,665.5 829.3,653.5 830.3,641.6 831.5,629.6 832.6,617.7 833.6,605.7 833.8,603.7"/>
<polyline class="c" stroke-dasharray="33.3 19.4" stroke-dashoffset="0" points="833.8,603.7 834.7,591.7 835.5,579.8 836.2,567.8 836.9,555.8 837.4,543.8 837.9,531.8 838.3,519.8 838.7,507.9 839.2,495.9 839.6,483.9 840.2,471.9 840.7,459.9 841.3,447.9 841.9,435.9 842.6,423.9 843.2,412.0 843.9,400.0 844.2,395.0"/>
<polyline class="c" stroke-dasharray="33.3 19.4" stroke-dashoffset="0" points="844.2,395.0 844.9,383.0 845.7,371.0 846.4,359.1 847.2,347.1 848.0,335.1 848.8,323.1 849.6,311.2 850.5,299.2 851.5,287.2 852.4,275.3 853.4,263.3 854.4,251.4 855.5,239.4 856.5,227.4 857.5,215.5 858.5,203.5 859.5,191.6 860.0,185.1"/>
<polyline class="c" stroke-dasharray="33.3 19.4" stroke-dashoffset="0" points="860.0,185.1 860.9,173.1 861.7,161.1 862.6,149.2 863.6,137.2 865.0,124.8 866.9,112.4 868.9,100.6 870.7,88.7 872.0,81.0"/>
<polyline class="c" stroke-dasharray="33.3 19.4" stroke-dashoffset="0" points="872.0,81.0 874.2,69.0 877.0,56.9 880.4,49.1 884.6,44.9 886.0,44.4 886.5,44.5 892.0,54.3"/>
<polyline class="c" stroke-dasharray="33.3 19.4" stroke-dashoffset="0" points="892.0,54.3 895.4,65.9 897.8,78.2 899.7,90.5 901.2,102.5 903.0,114.8 904.9,126.7 906.5,138.8 907.2,151.0 908.4,163.5 910.8,175.5 911.9,187.7 912.4,199.7 912.9,211.7 913.3,223.6 914.0,235.6 914.8,247.6 915.6,259.6 915.9,263.1"/>
<polyline class="c" stroke-dasharray="33.3 19.4" stroke-dashoffset="0" points="915.9,263.1 916.8,275.0 917.7,287.0 918.7,299.0 919.6,310.9 920.5,322.9 921.2,334.9 921.8,346.9 922.3,358.8 922.8,370.8 923.3,382.8 923.9,394.8 924.5,406.8 925.1,418.8 925.8,430.8 926.5,442.7 927.2,454.7 928.0,466.7 928.2,471.2"/>
<polyline class="c" stroke-dasharray="33.3 19.4" stroke-dashoffset="0" points="928.2,471.2 929.0,483.2 929.9,495.1 930.7,507.1 931.7,519.1 932.7,531.0 933.5,543.0 934.1,555.3 934.4,567.5 934.7,579.5 935.4,591.9 936.4,604.4 937.0,616.4 937.4,628.4 937.6,632.9"/>
<polyline class="c" stroke-dasharray="33.3 19.4" stroke-dashoffset="0" points="937.6,632.9 938.3,644.9 939.0,656.8 939.7,668.8 940.5,680.8 941.2,692.8 941.8,704.8 942.3,716.8 942.8,728.7 943.5,740.7 944.7,753.2 945.9,765.6 946.5,777.6 947.0,789.6 947.5,801.6 948.0,813.6 948.5,825.5 949.1,837.5 949.1,838.5"/>
<polyline class="c" stroke-dasharray="33.3 19.4" stroke-dashoffset="0" points="949.1,838.5 949.8,850.5 950.5,862.5 951.3,874.5 952.4,886.4 953.3,898.4 954.2,910.4 955.0,922.3 955.8,934.3 956.7,946.3 957.8,958.2 958.9,970.2 959.8,982.1 960.7,994.1 962.0,1006.5 963.5,1018.4 964.7,1030.9 965.5,1042.9 965.8,1046.8"/>
<polyline class="c" stroke-dasharray="33.3 19.4" stroke-dashoffset="0" points="965.8,1046.8 967.6,1059.2 969.8,1071.0 971.9,1083.3 973.8,1095.7 976.2,1107.9 979.3,1120.1 982.8,1131.9 986.7,1143.4 989.7,1148.0 1001.0,1153.2 1013.1,1156.0 1025.5,1157.8 1038.0,1158.0 1050.0,1158.0 1062.0,1158.0 1074.0,1158.0 1086.0,1158.0 1098.0,1158.0 1110.0,1158.0 1122.0,1158.0 1134.0,1158.0 1146.0,1158.0 1158.0,1158.0 1170.0,1158.0 1182.0,1158.0 1194.0,1158.0 1206.0,1158.0 1218.0,1158.0 1230.0,1158.0 1242.0,1158.0 1254.0,1158.0 1266.0,1158.0 1278.0,1158.0 1290.0,1158.0 1302.0,1158.0 1314.0,1158.0 1326.0,1158.0 1338.0,1158.0 1350.0,1158.0 1362.0,1158.0 1374.0,1158.0 1386.0,1158.0 1398.0,1158.0 1410.0,1158.0 1422.0,1158.0 1434.0,1158.0 1446.0,1158.0 1458.0,1158.0 1470.0,1158.0 1482.0,1158.0 1494.0,1158.0 1506.0,1158.0 1518.0,1158.0 1530.0,1158.0 1542.0,1158.0 1554.0,1158.0 1566.0,1158.0 1578.0,1158.0 1590.0,1158.0 1597.5,1158.0"/>
</g>
<g stroke="#FF0000">
<polyline class="c" stroke-dasharray="27.7 8.3 8.3 8.3" stroke-dashoffset="44.3" points="893.0,1158.0 881.0,1158.0 877.0,1158.0 874.0,1156.4 871.2,1148.9 870.6,1136.9 870.1,1124.9 869.5,1112.9 869.0,1100.9 868.4,1088.9 867.9,1077.0 867.4,1065.0 867.0,1053.0 866.5,1041.0 866.1,1029.0 865.6,1017.0 865.2,1005.0 864.9,992.5 864.7,980.5 864.5,968.5 864.3,956.5 864.1,944.5 863.9,932.5 863.7,920.5 863.5,908.5 863.3,896.5 863.1,884.5 862.9,872.5 862.7,860.5 862.5,848.5 862.4,836.5 862.3,824.5 862.2,812.5 862.1,800.5 862.0,788.5 861.9,776.5 861.8,764.5 861.7,752.5 861.6,740.5 861.5,728.5 861.4,716.5 861.3,704.5 861.3,692.5 861.2,680.5 861.1,668.5 861.0,656.5 861.0,644.5 860.9,632.5 860.8,620.5 860.8,608.5 860.7,596.5 860.6,584.5 860.5,572.5 860.5,560.5 860.4,548.5 860.4,536.5 860.3,524.5 860.3,512.5 860.3,500.5 860.2,488.5 860.2,476.5 860.2,464.5 860.1,452.5 860.1,440.5 860.1,428.5 860.0,416.5 860.0,404.5 859.8,392.0 859.5,380.0 859.0,375.5 857.9,387.9 857.3,399.9 856.8,411.9 856.3,423.9 855.9,436.4 855.6,448.4 855.4,460.4 855.2,472.4 855.0,484.4 854.7,496.3 854.5,508.3 854.3,520.3 854.0,532.3 853.8,544.3 853.7,556.8 853.6,568.8 853.5,580.8 853.4,592.8 853.4,604.8 853.3,616.8 853.2,628.8 853.2,640.8 853.1,652.8 853.0,664.8 852.9,676.8 852.9,688.8 852.8,700.8 852.7,712.8 852.7,724.8 852.7,736.8 852.6,748.8 852.6,760.8 852.5,772.8 852.5,784.8 852.4,796.8 852.4,808.8 852.3,820.8 852.3,832.8 852.2,844.8 852.1,856.8 852.0,868.8 852.0,880.8 851.9,892.8 851.8,904.8 851.7,916.8 851.6,928.8 851.5,940.8 851.4,952.8 851.3,964.8 851.2,976.8 851.1,988.8 850.9,1001.3 850.4,1013.3 849.9,1025.3 849.3,1037.3 848.2,1049.7 846.3,1061.6 844.8,1074.0 844.0,1085.9 843.3,1097.9 842.6,1109.9 842.5,1121.9 842.4,1133.9 842.3,1145.9 841.9,1153.1 841.2,1140.7 841.0,1128.7 840.8,1116.7 840.6,1104.7 840.3,1103.3 839.7,1115.3 839.4,1117.2 838.9,1105.2 838.5,1093.2 838.0,1081.2 838.0,1081.0 837.6,1093.3 837.2,1105.3 836.8,1117.2 836.3,1119.8 835.8,1107.8 835.2,1095.8 834.9,1093.7 834.5,1105.7 834.1,1117.7 833.7,1119.8 833.5,1107.8 833.3,1095.8 833.2,1083.8 833.0,1071.8 832.8,1059.8 832.7,1047.8 832.6,1035.8 832.5,1023.8 832.4,1011.8 832.2,999.8 832.1,987.8 832.0,975.8 831.9,963.8 831.8,951.8 831.7,939.8 831.6,927.8 831.5,915.8 831.5,903.8 831.4,891.8 831.4,879.8 831.4,867.8 831.3,855.8 831.3,843.8 831.2,831.8 831.2,819.8 831.1,807.8 831.1,795.8 831.0,783.8 831.0,771.8 830.9,759.8 830.9,747.8 830.9,735.8 830.8,723.8 830.8,711.8 830.8,699.8 830.7,687.8 830.7,675.8 830.7,663.8 830.6,651.8 830.6,639.8 830.6,627.8 830.5,615.8 830.5,603.8 830.5,591.8 830.4,579.8 830.4,567.8 830.3,555.8 830.3,543.8 830.3,531.8 830.2,519.8 830.2,507.8 830.1,495.8 830.1,483.8 830.0,471.8 830.0,459.8 830.0,447.8 830.0,435.8 830.0,423.8 829.9,411.8 829.9,399.8 829.9,387.8 829.9,375.8 829.9,363.8 829.8,351.8 829.8,339.8 829.8,327.8 829.8,315.8 829.8,303.8 829.8,291.8 829.7,279.8 829.7,267.8 829.7,255.8 829.7,243.8 829.7,231.8 829.6,219.8 829.6,207.8 829.6,195.8 829.6,183.8 829.5,171.8 829.5,159.8 829.5,147.8 829.5,135.8 829.5,123.8 829.4,111.8 829.4,99.8 829.4,87.8 829.4,75.8 829.3,63.8 829.3,51.8 829.3,64.2 829.3,76.2 829.2,88.2 829.2,100.2 829.2,112.2 829.2,124.2 829.2,136.2 829.2,148.2 829.1,160.2 829.1,172.2 829.1,184.2 829.1,196.2 829.1,208.2 829.0,220.2 829.0,232.2 829.0,244.2 829.0,256.2 829.0,268.2 828.9,280.2 828.9,292.2 828.9,304.2 828.9,316.2 828.8,328.2 828.8,340.2 828.8,352.2 828.8,364.2 828.8,376.2 828.7,388.2 828.7,400.2 828.7,412.2 828.7,424.2 828.6,436.2 828.6,448.2 828.6,460.2 828.6,472.2 828.5,484.2 828.5,496.2 828.5,508.2 828.4,520.2 828.4,532.2 828.4,544.2 828.3,556.2 828.3,568.2 828.3,580.2 828.2,592.2 828.2,604.2 828.1,616.2 828.1,628.2 828.0,640.2 828.0,652.2 828.0,664.2 827.9,676.2 827.9,688.2 827.8,700.2 827.8,712.2 827.7,724.2 827.7,736.2 827.6,748.2 827.6,760.2 827.5,772.2 827.5,784.2 827.4,796.2 827.3,808.2 827.2,820.2 827.2,832.2 827.1,844.2 827.0,856.2 826.9,868.2 826.8,880.2 826.8,892.2 826.7,904.2 826.6,916.2 826.5,928.2 826.4,940.2 826.3,952.2 826.3,964.2 826.2,976.2 826.1,988.2 826.0,1000.2 825.9,1012.2 825.8,1024.2 825.7,1036.2 825.6,1048.2 825.5,1060.2 825.4,1072.2 825.2,1084.2 825.0,1096.2 824.8,1108.2 824.6,1120.2 824.3,1122.3 823.9,1110.3 823.5,1097.8 823.3,1085.8 823.1,1073.8 822.9,1061.8 822.7,1049.8 822.6,1037.8 822.4,1025.8 822.2,1013.8 822.0,1001.8 821.9,989.8 821.8,977.8 821.7,965.8 821.5,953.8 821.4,941.8 821.3,929.8 821.2,917.8 821.1,905.8 820.9,893.8 820.8,881.8 820.8,881.2 820.3,893.1 819.9,905.1 819.5,917.1 819.0,929.1 818.8,941.6 818.7,953.6 818.5,965.6 818.3,977.6 818.1,989.6 818.0,1001.6 817.8,1013.6 817.6,1025.6 817.3,1037.6 817.2,1049.6 817.0,1061.6 816.9,1073.6 816.7,1085.6 816.5,1097.6 816.0,1110.1 815.4,1122.1 814.7,1134.1 814.0,1146.0 811.5,1157.0 809.5,1158.0 797.1,1158.0 785.1,1158.0 773.1,1158.0 761.1,1158.0 749.1,1158.0 737.1,1158.0 725.1,1158.0 713.1,1158.0 701.1,1158.0 689.1,1158.0 677.1,1158.0 665.1,1158.0 653.1,1158.0 646.0,1158.0 643.9,1145.8 641.8,1134.1 639.0,1145.7 638.0,1149.9 634.6,1140.1 631.6,1151.7 630.0,1158.0 617.5,1158.0 605.5,1158.0 593.5,1158.0 581.5,1158.0 569.5,1158.0 564.6,1157.9 561.6,1146.3 559.0,1136.0 556.0,1148.0 555.0,1152.0 551.1,1140.2 551.0,1140.0 549.0,1152.1 548.0,1158.0 535.5,1158.0 523.5,1158.0 511.5,1158.0 499.5,1158.0 487.5,1158.0 475.5,1158.0 463.5,1158.0 451.5,1158.0 444.0,1158.0 436.9,1149.1 430.0,1158.0 417.8,1158.0 405.8,1158.0 393.8,1158.0 381.8,1158.0 369.8,1158.0 357.8,1158.0 345.8,1158.0 333.8,1158.0 321.8,1158.0 309.8,1158.0 308.0,1158.0 302.5,1150.5 296.0,1158.0 283.5,1158.0 271.5,1158.0 259.5,1158.0 247.5,1158.0 235.5,1158.0 223.5,1158.0 211.5,1158.0 199.5,1158.0 187.5,1158.0 187.0,1158.0 183.4,1146.1 181.6,1134.2 179.9,1122.4 179.0,1115.7 175.5,1111.1"/>
<polyline class="c" stroke-dasharray="27.7 8.3 8.3 8.3" stroke-dashoffset="0" points="893.0,1158.0 905.0,1158.0 906.0,1158.0 909.5,1156.0 912.9,1149.3 914.9,1137.5 916.1,1125.1 917.1,1113.1 917.7,1100.6 918.1,1088.6 918.4,1076.6 918.8,1064.6 919.0,1052.6 919.2,1040.6 919.4,1028.6 919.7,1016.7 919.9,1004.7 920.0,992.7 920.2,980.7 920.3,968.7 920.5,956.7 920.6,944.7 920.8,932.7 921.0,920.7 921.2,908.7 921.4,896.7 921.6,884.7 921.9,872.7 922.1,860.7 922.3,848.7 922.5,836.7 922.7,824.7 923.0,812.7 923.2,800.7 923.3,788.7 923.3,776.7 923.4,764.7 923.5,752.7 923.6,740.7 923.6,728.7 923.7,716.7 923.8,704.7 923.9,692.7 924.0,680.7 924.1,668.7 924.2,656.7 924.4,644.7 924.5,632.7 924.6,620.7 924.7,608.7 924.8,596.7 925.0,584.7 925.1,572.7 925.2,560.7 925.3,548.7 925.4,536.7 925.4,524.7 925.5,512.7 925.5,500.7 925.6,488.7 925.6,476.7 925.7,464.7 925.8,452.7 925.8,440.7 925.9,428.7 925.9,416.7 926.0,404.7 926.1,392.7 926.2,380.7 926.3,368.7 926.4,356.7 926.5,344.7 926.6,332.7 926.7,320.7 926.8,308.7 926.9,296.7 927.0,284.7 927.1,272.7 927.2,260.7 927.3,248.7 927.5,236.7 927.6,224.7 927.8,212.7 927.9,200.7 928.1,188.7 928.3,176.7 928.4,164.7 928.6,152.7 928.7,140.7 928.9,128.7 929.1,116.2 929.5,104.2 929.8,92.2 930.2,80.2 930.5,68.2 930.8,56.2 930.9,55.7"/>
<polyline class="c" stroke-dasharray="27.7 8.3 8.3 8.3" stroke-dashoffset="0" points="930.9,55.7 931.1,54.8 931.3,66.8 931.5,78.8 931.7,90.8 932.0,102.8 932.2,114.8 932.4,127.3 932.4,139.3 932.5,151.3 932.6,163.3 932.7,175.3 932.8,187.3 932.8,199.3 932.9,211.3 933.0,223.3 933.1,235.3 933.2,247.3 933.2,259.3 933.3,271.3 933.4,283.3 933.4,295.3 933.5,307.3 933.6,319.3 933.6,331.3 933.7,343.3 933.8,355.3 933.8,367.3 933.9,379.3 934.0,391.3 934.0,403.3 934.1,415.3 934.2,427.3 934.3,439.3 934.3,451.3 934.4,463.3 934.5,475.3 934.6,487.3 934.7,499.3 934.7,511.3 934.8,523.3 934.9,535.3 935.0,547.3 935.1,559.3 935.2,571.3 935.4,583.3 935.5,595.3 935.6,607.3 935.7,619.3 935.9,631.3 936.0,643.3 936.1,655.3 936.3,667.3 936.4,679.3 936.5,691.3 936.6,703.3 936.6,715.3 936.6,727.3 936.6,739.3 936.6,751.3 936.6,763.3 936.6,775.3 936.6,787.3 936.6,799.3 936.6,811.3 936.6,823.3 936.6,835.3 936.6,847.3 936.7,859.3 936.7,871.3 936.7,883.3 936.7,895.3 936.7,907.3 936.7,919.3 936.7,931.3 936.7,943.3 936.7,955.3 936.7,967.3 936.7,979.3 936.7,991.3 936.7,1003.3 936.9,1015.8 937.2,1027.8 937.6,1039.7 937.9,1051.7 938.3,1063.7 938.7,1075.7 939.1,1087.7 939.5,1099.7 940.5,1112.2 941.7,1124.1 942.7,1136.6 943.7,1148.5 944.2,1155.0 947.0,1157.5 959.2,1158.0 971.2,1158.0 983.2,1158.0 995.2,1158.0 1007.2,1158.0 1019.2,1158.0 1031.2,1158.0 1043.2,1158.0 1055.2,1158.0 1067.2,1158.0 1079.2,1158.0 1091.2,1158.0 1103.2,1158.0 1115.2,1158.0 1127.2,1158.0 1139.2,1158.0 1151.2,1158.0 1163.2,1158.0 1175.2,1158.0 1187.2,1158.0 1199.2,1158.0 1211.2,1158.0 1223.2,1158.0 1235.2,1158.0 1247.2,1158.0 1259.2,1158.0 1271.2,1158.0 1283.2,1158.0 1295.2,1158.0 1307.2,1158.0 1319.2,1158.0 1331.2,1158.0 1343.2,1158.0 1355.2,1158.0 1367.2,1158.0 1379.2,1158.0 1386.0,1158.0 1393.1,1150.8 1400.0,1158.0 1412.5,1158.0 1424.5,1158.0 1436.5,1158.0 1448.5,1158.0 1460.5,1158.0 1472.5,1158.0 1484.5,1158.0 1496.5,1158.0 1508.5,1158.0 1520.5,1158.0 1532.5,1158.0 1544.5,1158.0 1556.5,1158.0 1568.5,1158.0 1580.5,1158.0 1592.5,1158.0 1597.5,1158.0"/>
</g>
<polyline class="c" stroke="#FFFF00" points="175.5,1158.0 176.0,1158.0 178.9,1158.0 181.9,1158.0 184.9,1158.0 187.9,1158.0 190.9,1158.0 193.8,1158.0 196.8,1158.0 199.8,1158.0 202.8,1158.0 205.7,1158.0 208.7,1158.0 211.7,1158.0 214.6,1158.0 217.6,1158.0 220.6,1158.0 223.5,1158.0 226.5,1158.0 229.5,1158.0 232.4,1158.0 235.4,1158.0 238.3,1158.0 241.3,1158.0 244.3,1158.0 247.2,1158.0 250.2,1158.0 253.1,1158.0 256.1,1158.0 259.0,1158.0 262.0,1158.0 264.9,1158.0 267.9,1158.0 270.8,1158.0 273.8,1158.0 276.7,1158.0 279.7,1158.0 282.6,1158.0 285.6,1158.0 288.5,1158.0 291.5,1158.0 294.4,1158.0 297.4,1158.0 300.3,1158.0 303.2,1158.0 306.2,1158.0 309.1,1158.0 312.1,1158.0 315.0,1158.0 317.9,1158.0 320.9,1158.0 323.8,1158.0 326.7,1158.0 329.7,1158.0 332.6,1158.0 335.5,1158.0 338.5,1158.0 341.4,1158.0 344.3,1158.0 347.2,1158.0 350.2,1158.0 353.1,1158.0 356.0,1158.0 358.9,1158.0 361.9,1158.0 364.8,1158.0 367.7,1158.0 370.6,1158.0 373.6,1158.0 376.5,1158.0 379.4,1158.0 382.3,1158.0 385.2,1158.0 388.1,1158.0 391.1,1158.0 394.0,1158.0 396.9,1158.0 399.8,1158.0 402.7,1158.0 405.6,1158.0 408.5,1158.0 411.5,1158.0 414.4,1158.0 417.3,1158.0 420.2,1158.0 423.1,1158.0 426.0,1158.0 428.9,1158.0 431.8,1158.0 434.7,1158.0 437.6,1158.0 440.5,1158.0 443.4,1158.0 446.3,1158.0 449.2,1158.0 452.1,1158.0 455.0,1158.0 457.9,1158.0 460.8,1158.0 463.7,1158.0 466.6,1158.0 469.5,1158.0 472.4,1158.0 475.3,1158.0 478.2,1158.0 481.1,1158.0 484.0,1158.0 486.9,1158.0 489.8,1158.0 492.7,1158.0 495.5,1158.0 498.4,1158.0 501.3,1158.0 504.2,1158.0 507.1,1158.0 510.0,1158.0 512.9,1158.0 515.8,1158.0 518.6,1158.0 521.5,1158.0 524.4,1158.0 527.3,1158.0 530.2,1158.0 533.1,1158.0 535.9,1158.0 538.8,1158.0 541.7,1158.0 544.6,1158.0 547.5,1158.0 550.3,1158.0 553.2,1158.0 556.1,1158.0 559.0,1158.0 561.8,1158.0 564.7,1158.0 567.6,1158.0 570.5,1158.0 573.3,1158.0 576.2,1158.0 579.1,1158.0 582.0,1158.0 584.8,1158.0 587.7,1158.0 590.6,1158.0 593.4,1158.0 596.3,1158.0 599.2,1158.0 602.0,1158.0 604.9,1158.0 607.8,1158.0 610.6,1158.0 613.5,1158.0 616.4,1158.0 619.2,1158.0 622.1,1158.0 625.0,1158.0 627.8,1158.0 630.7,1158.0 633.6,1158.0 636.4,1158.0 639.3,1158.0 642.1,1158.0 645.0,1158.0 647.9,1158.0 650.7,1158.0 653.6,1158.0 656.4,1158.0 659.3,1158.0 662.2,1158.0 665.0,1158.0 667.9,1158.0 670.7,1158.0 673.6,1158.0 676.4,1158.0 679.3,1158.0 682.2,1158.0 685.0,1158.0 687.9,1158.0 690.7,1158.0 693.6,1158.0 696.4,1158.0 699.3,1158.0 702.1,1158.0 705.0,1158.0 707.8,1158.0 710.7,1158.0 713.5,1158.0 716.4,1158.0 719.2,1158.0 722.1,1158.0 724.9,1158.0 727.8,1158.0 730.6,1158.0 733.5,1158.0 736.3,1158.0 739.2,1158.0 742.0,1158.0 744.9,1158.0 747.7,1158.0 750.6,1158.0 753.4,1158.0 756.2,1158.0 759.1,1158.0 761.9,1158.0 764.8,1158.0 767.6,1158.0 770.5,1158.0 773.3,1158.0 776.1,1158.0 779.0,1158.0 781.8,1158.0 784.7,1158.0 787.5,1158.0 790.4,1158.0 793.2,1158.0 796.0,1158.0 798.9,1158.0 801.7,1158.0 804.6,1158.0 807.4,1158.0 810.2,1158.0 813.1,1158.0 814.0,1158.0 816.0,1157.5 816.0,1157.5 816.5,1156.0 816.9,1153.6 817.1,1150.4 817.3,1147.0 817.4,1143.5 817.6,1140.3 817.6,1140.0 817.8,1137.4 817.9,1134.5 818.1,1131.6 818.2,1128.7 818.3,1125.8 818.5,1122.9 818.6,1120.1 818.7,1117.2 818.8,1115.0 818.8,1114.3 818.9,1111.4 819.1,1108.5 819.2,1105.6 819.3,1102.7 819.4,1099.8 819.5,1096.9 819.6,1094.0 819.7,1091.1 819.7,1088.2 819.8,1085.3 819.9,1082.4 820.0,1080.0 820.0,1079.5 820.1,1076.6 820.2,1073.7 820.3,1070.8 820.4,1067.9 820.5,1065.0 820.6,1062.1 820.7,1059.3 820.8,1056.4 820.8,1053.5 820.9,1050.6 821.0,1047.7 821.1,1044.8 821.1,1041.9 821.2,1039.0 821.2,1036.1 821.3,1033.2 821.3,1030.3 821.3,1030.0 821.3,1027.4 821.3,1024.5 821.3,1021.6 821.4,1018.7 821.4,1015.8 821.4,1012.9 821.4,1010.0 821.4,1007.1 821.4,1004.2 821.4,1001.3 821.4,998.4 821.4,995.5 821.5,992.6 821.5,989.7 821.5,986.8 821.5,984.0 821.5,981.1 821.5,978.2 821.5,975.3 821.5,972.4 821.5,969.5 821.5,966.6 821.5,963.7 821.5,960.8 821.5,957.9 821.5,955.0 821.5,952.1 821.5,949.2 821.6,946.3 821.6,943.4 821.6,940.5 821.6,937.6 821.6,934.7 821.6,931.8 821.6,930.0 821.6,928.9 821.6,926.0 821.6,923.1 821.6,920.2 821.6,917.3 821.7,914.4 821.7,911.5 821.7,908.6 821.7,905.7 821.7,902.8 821.7,899.9 821.7,897.0 821.7,894.2 821.7,891.3 821.7,888.4 821.7,885.5 821.8,882.6 821.8,879.7 821.8,876.8 821.8,873.9 821.8,871.0 821.8,868.1 821.8,865.2 821.8,862.3 821.9,859.4 821.9,856.5 821.9,853.6 821.9,850.7 821.9,850.0 821.9,847.8 821.9,844.9 821.9,842.0 822.0,839.1 822.0,836.2 822.0,833.3 822.0,830.4 822.1,827.5 822.1,824.6 822.1,821.7 822.1,818.8 822.2,815.9 822.2,813.0 822.2,810.2 822.2,807.3 822.3,804.4 822.3,801.5 822.3,798.6 822.4,795.7 822.4,792.8 822.4,789.9 822.4,787.0 822.5,784.1 822.5,781.2 822.5,780.0 822.5,778.3 822.5,775.4 822.6,772.5 822.6,769.6 822.6,766.7 822.6,763.8 822.7,760.9 822.7,758.0 822.7,755.1 822.7,752.2 822.7,749.3 822.8,746.4 822.8,743.5 822.8,740.6 822.8,737.7 822.9,734.8 822.9,731.9 822.9,729.0 822.9,726.2 822.9,723.3 823.0,720.4 823.0,717.5 823.0,714.6 823.0,711.7 823.0,708.8 823.1,705.9 823.1,703.0 823.1,700.1 823.1,697.2 823.2,694.3 823.2,691.4 823.2,688.5 823.2,685.6 823.2,682.7 823.3,679.8 823.3,676.9 823.3,674.0 823.3,671.1 823.4,668.2 823.4,665.3 823.4,662.4 823.4,659.5 823.5,656.6 823.5,653.7 823.5,650.8 823.5,647.9 823.6,645.0 823.6,642.2 823.6,639.3 823.6,636.4 823.7,633.5 823.7,630.6 823.7,630.0 823.7,627.7 823.8,624.8 823.8,621.9 823.8,619.0 823.8,616.1 823.9,613.2 823.9,610.3 823.9,607.4 824.0,604.5 824.0,601.6 824.0,598.7 824.1,595.8 824.1,592.9 824.1,590.0 824.2,587.1 824.2,584.2 824.2,581.3 824.3,578.4 824.3,575.5 824.3,572.6 824.4,569.7 824.4,566.8 824.4,563.9 824.5,561.1 824.5,558.2 824.5,555.3 824.6,552.4 824.6,550.0 824.6,549.5 824.6,546.6 824.7,543.7 824.7,540.8 824.8,537.9 824.8,535.0 824.8,532.1 824.9,529.2 824.9,526.3 825.0,523.4 825.0,520.5 825.0,517.6 825.1,514.7 825.1,511.8 825.2,508.9 825.2,506.0 825.2,503.1 825.3,500.2 825.3,497.3 825.3,494.4 825.4,491.5 825.4,488.6 825.4,485.7 825.5,482.8 825.5,480.0 825.5,480.0 825.5,477.1 825.6,474.2 825.6,471.3 825.6,468.4 825.6,465.5 825.6,462.6 825.7,459.7 825.7,456.8 825.7,453.9 825.7,451.0 825.8,448.1 825.8,445.2 825.8,442.3 825.8,439.4 825.8,436.5 825.9,433.6 825.9,430.7 825.9,427.8 825.9,424.9 825.9,422.0 826.0,419.1 826.0,416.2 826.0,413.3 826.0,410.4 826.0,407.5 826.0,404.6 826.1,401.7 826.1,398.8 826.1,396.0 826.1,393.1 826.1,390.2 826.2,387.3 826.2,384.4 826.2,381.5 826.2,378.6 826.2,375.7 826.2,372.8 826.3,369.9 826.3,367.0 826.3,364.1 826.3,361.2 826.3,358.3 826.3,355.4 826.4,352.5 826.4,349.6 826.4,346.7 826.4,343.8 826.4,340.9 826.4,338.0 826.5,335.1 826.5,332.2 826.5,330.0 826.5,329.3 826.5,326.4 826.5,323.5 826.6,320.6 826.6,317.7 826.6,314.8 826.6,311.9 826.6,309.1 826.7,306.2 826.7,303.3 826.7,300.4 826.7,297.5 826.7,294.6 826.7,291.7 826.8,288.8 826.8,285.9 826.8,283.0 826.8,280.1 826.8,277.2 826.9,274.3 826.9,271.4 826.9,268.5 826.9,265.6 826.9,262.7 826.9,259.8 827.0,256.9 827.0,254.0 827.0,251.1 827.0,248.2 827.0,245.3 827.1,242.4 827.1,239.5 827.1,236.6 827.1,233.7 827.1,230.8 827.2,227.9 827.2,225.1 827.2,222.2 827.2,219.3 827.2,216.4 827.3,213.5 827.3,210.6 827.3,207.7 827.3,204.8 827.3,201.9 827.4,199.0 827.4,196.1 827.4,193.2 827.4,190.3 827.4,187.4 827.5,184.5 827.5,181.6 827.5,180.0 827.5,178.7 827.5,175.8 827.6,172.9 827.6,170.0 827.6,167.1 827.6,164.2 827.6,161.3 827.7,158.4 827.7,155.5 827.7,152.6 827.7,149.7 827.8,146.8 827.8,143.9 827.8,141.1 827.8,138.2 827.9,135.3 827.9,132.4 827.9,129.5 827.9,126.6 828.0,123.7 828.0,120.8 828.0,117.9 828.0,115.0 828.1,112.1 828.1,109.2 828.1,106.3 828.1,103.4 828.2,100.5 828.2,97.6 828.2,94.7 828.3,91.8 828.3,88.9 828.3,86.0 828.4,83.1 828.4,80.2 828.4,77.3 828.4,74.4 828.5,71.5 828.5,70.0 828.5,68.6 828.6,65.3 828.6,61.7 828.6,57.9 828.7,54.0 828.7,50.2 828.8,46.6 828.8,43.4 828.8,40.5 828.9,38.3 828.9,36.8 829.0,36.0 829.0,36.0 829.0,36.3 829.1,37.4 829.1,39.3 829.2,41.8 829.3,44.8 829.3,48.3 829.4,51.9 829.4,55.8 829.5,59.6 829.5,63.4 829.6,66.9 829.6,70.0 829.6,70.0 829.6,72.9 829.7,75.8 829.7,78.7 829.7,81.6 829.8,84.5 829.8,87.4 829.8,90.3 829.9,93.1 829.9,96.0 829.9,98.9 829.9,101.8 830.0,104.7 830.0,107.6 830.0,110.5 830.0,113.4 830.1,116.3 830.1,119.2 830.1,122.1 830.1,125.0 830.2,127.9 830.2,130.8 830.2,133.7 830.2,136.6 830.3,139.5 830.3,142.4 830.3,145.3 830.3,148.2 830.3,151.1 830.4,154.0 830.4,156.9 830.4,159.8 830.4,162.7 830.4,165.6 830.4,168.5 830.5,171.4 830.5,174.3 830.5,177.1 830.5,180.0 830.5,180.0 830.5,182.9 830.5,185.8 830.5,188.7 830.6,191.6 830.6,194.5 830.6,197.4 830.6,200.3 830.6,203.2 830.6,206.1 830.6,209.0 830.6,211.9 830.6,214.8 830.7,217.7 830.7,220.6 830.7,223.5 830.7,226.4 830.7,229.3 830.7,232.2 830.7,235.1 830.7,238.0 830.7,240.9 830.7,243.8 830.7,246.7 830.8,249.6 830.8,252.5 830.8,255.4 830.8,258.3 830.8,261.2 830.8,264.0 830.8,266.9 830.8,269.8 830.8,272.7 830.8,275.6 830.8,278.5 830.8,281.4 830.9,284.3 830.9,287.2 830.9,290.1 830.9,293.0 830.9,295.9 830.9,298.8 830.9,301.7 830.9,304.6 830.9,307.5 830.9,310.4 830.9,313.3 831.0,316.2 831.0,319.1 831.0,322.0 831.0,324.9 831.0,327.8 831.0,330.0 831.0,330.7 831.0,333.6 831.0,336.5 831.0,339.4 831.0,342.3 831.1,345.2 831.1,348.1 831.1,350.9 831.1,353.8 831.1,356.7 831.1,359.6 831.1,362.5 831.1,365.4 831.1,368.3 831.2,371.2 831.2,374.1 831.2,377.0 831.2,379.9 831.2,382.8 831.2,385.7 831.2,388.6 831.2,391.5 831.3,394.4 831.3,397.3 831.3,400.2 831.3,403.1 831.3,406.0 831.3,408.9 831.3,411.8 831.3,414.7 831.3,417.6 831.4,420.5 831.4,423.4 831.4,426.3 831.4,429.2 831.4,432.1 831.4,434.9 831.4,437.8 831.4,440.7 831.5,443.6 831.5,446.5 831.5,449.4 831.5,452.3 831.5,455.2 831.5,458.1 831.5,461.0 831.5,463.9 831.6,466.8 831.6,469.7 831.6,472.6 831.6,475.5 831.6,478.4 831.6,481.3 831.6,484.2 831.6,487.1 831.7,490.0 831.7,492.9 831.7,495.8 831.7,498.7 831.7,501.6 831.7,504.5 831.7,507.4 831.7,510.3 831.8,513.2 831.8,516.1 831.8,519.0 831.8,521.8 831.8,524.7 831.8,527.6 831.8,530.5 831.8,533.4 831.8,536.3 831.9,539.2 831.9,542.1 831.9,545.0 831.9,547.9 831.9,550.0 831.9,550.8 831.9,553.7 831.9,556.6 831.9,559.5 831.9,562.4 832.0,565.3 832.0,568.2 832.0,571.1 832.0,574.0 832.0,576.9 832.0,579.8 832.0,582.7 832.0,585.6 832.0,588.5 832.0,591.4 832.1,594.3 832.1,597.2 832.1,600.1 832.1,603.0 832.1,605.9 832.1,608.7 832.1,611.6 832.1,614.5 832.1,617.4 832.2,620.3 832.2,623.2 832.2,626.1 832.2,629.0 832.2,630.0 832.2,631.9 832.2,634.8 832.2,637.7 832.3,640.6 832.3,643.5 832.3,646.4 832.3,649.3 832.3,652.2 832.3,655.1 832.4,658.0 832.4,660.9 832.4,663.8 832.4,666.7 832.4,669.6 832.5,672.5 832.5,675.4 832.5,678.3 832.5,681.2 832.6,684.1 832.6,687.0 832.6,689.9 832.6,692.7 832.7,695.6 832.7,698.5 832.7,701.4 832.7,704.3 832.8,707.2 832.8,710.1 832.8,713.0 832.8,715.9 832.9,718.8 832.9,721.7 832.9,724.6 832.9,727.5 833.0,730.4 833.0,733.3 833.0,736.2 833.0,739.1 833.1,742.0 833.1,744.9 833.1,747.8 833.1,750.7 833.2,753.6 833.2,756.5 833.2,759.4 833.2,762.3 833.3,765.2 833.3,768.1 833.3,771.0 833.3,773.9 833.4,776.7 833.4,779.6 833.4,780.0 833.4,782.5 833.4,785.4 833.5,788.3 833.5,791.2 833.5,794.1 833.5,797.0 833.6,799.9 833.6,802.8 833.6,805.7 833.6,808.6 833.6,811.5 833.7,814.4 833.7,817.3 833.7,820.2 833.7,823.1 833.8,826.0 833.8,828.9 833.8,831.8 833.8,834.7 833.9,837.6 833.9,840.5 833.9,843.4 834.0,846.3 834.0,849.2 834.0,850.0 834.0,852.1 834.1,855.0 834.1,857.8 834.2,860.7 834.2,863.6 834.3,866.5 834.4,869.4 834.4,872.3 834.5,875.2 834.6,878.1 834.6,881.0 834.7,883.9 834.8,886.8 834.9,889.7 835.0,892.6 835.0,895.5 835.1,898.4 835.2,901.3 835.3,904.2 835.3,907.1 835.4,910.0 835.5,912.9 835.5,915.8 835.6,918.7 835.7,921.6 835.7,924.5 835.8,927.4 835.8,930.0 835.8,930.2 835.8,933.1 835.9,936.0 835.9,938.9 835.9,941.8 836.0,944.7 836.0,947.6 836.0,950.5 836.1,953.4 836.1,956.3 836.1,959.2 836.2,962.1 836.2,965.0 836.2,967.9 836.2,970.8 836.3,973.7 836.3,976.6 836.3,979.5 836.3,982.4 836.4,985.3 836.4,988.2 836.4,991.1 836.4,994.0 836.5,996.9 836.5,999.8 836.5,1000.0 836.5,1002.8 836.5,1006.1 836.6,1009.5 836.6,1013.2 836.6,1017.0 836.6,1020.8 836.6,1024.7 836.6,1028.5 836.6,1032.3 836.7,1035.9 836.7,1039.4 836.7,1042.6 836.7,1045.7 836.8,1048.4 836.8,1050.7 836.8,1052.6 836.9,1054.1 836.9,1055.1 837.0,1055.6 837.0,1055.6 837.4,1054.4 838.2,1050.8 838.3,1050.0 838.5,1047.9 838.6,1045.0 838.8,1042.1 838.9,1039.2 839.0,1036.3 839.1,1033.4 839.2,1030.5 839.2,1027.6 839.3,1024.7 839.4,1021.8 839.5,1020.0 839.5,1018.9 839.7,1016.0 839.8,1013.1 840.0,1010.2 840.1,1007.3 840.2,1004.5 840.4,1001.6 840.5,998.7 840.7,995.8 840.8,992.9 841.0,990.0 841.0,990.0 841.2,987.1 841.3,984.2 841.5,981.3 841.6,978.4 841.8,975.5 841.9,972.6 842.1,969.7 842.3,966.9 842.4,964.0 842.6,961.1 842.7,958.2 842.9,955.3 843.1,952.4 843.2,949.5 843.4,946.6 843.5,943.7 843.7,940.8 843.9,937.9 844.0,935.0 844.2,932.1 844.3,930.0 844.3,929.3 844.5,926.4 844.6,923.5 844.8,920.6 844.9,917.7 845.1,914.8 845.2,911.9 845.3,909.0 845.5,906.1 845.6,903.2 845.7,900.3 845.9,897.4 846.0,894.5 846.2,891.6 846.3,888.7 846.5,885.8 846.6,883.0 846.8,880.1 847.0,877.2 847.2,874.3 847.4,871.4 847.5,870.0 847.6,868.4 847.9,865.0 848.1,861.3 848.4,857.5 848.7,853.7 849.1,850.2 849.4,847.2 849.7,844.7 850.1,843.1 850.4,842.5 850.4,842.5 850.7,843.1 851.1,844.7 851.4,847.3 851.8,850.4 852.2,854.0 852.5,857.8 852.9,861.6 853.2,865.2 853.5,868.0 853.5,868.3 853.8,871.2 854.1,874.1 854.4,876.9 854.7,879.8 855.0,882.7 855.3,885.6 855.5,888.5 855.8,891.4 856.1,894.2 856.3,897.1 856.6,900.0 856.8,902.9 857.1,905.8 857.3,908.7 857.5,911.6 857.8,914.4 858.0,917.3 858.2,920.2 858.4,923.1 858.6,926.0 858.8,928.9 858.9,930.0 859.0,931.8 859.2,934.7 859.4,937.6 859.6,940.5 859.7,943.3 859.9,946.2 860.1,949.1 860.2,952.0 860.4,954.9 860.5,957.8 860.7,960.7 860.8,963.6 861.0,966.5 861.1,969.4 861.3,972.3 861.4,975.2 861.6,978.1 861.8,980.9 861.9,983.8 862.0,985.0 862.1,986.7 862.3,989.6 862.5,992.5 862.6,995.4 862.8,998.3 863.0,1001.2 863.2,1004.1 863.4,1007.0 863.5,1009.9 863.7,1012.8 863.9,1015.6 864.1,1018.5 864.3,1021.4 864.6,1024.3 864.8,1027.2 865.0,1030.0 865.0,1030.1 865.2,1033.0 865.5,1035.9 865.8,1038.7 866.0,1041.6 866.3,1044.5 866.6,1047.4 867.0,1050.3 867.3,1053.1 867.4,1054.0 867.6,1056.0 868.0,1058.9 868.4,1061.8 868.8,1064.6 869.3,1067.5 869.7,1070.4 870.2,1073.2 870.6,1076.1 871.1,1078.9 871.7,1081.8 872.2,1084.6 872.2,1084.6 872.7,1087.5 873.3,1090.4 873.9,1093.3 874.5,1096.1 875.2,1099.0 875.9,1101.7 876.8,1104.4 877.1,1105.2 877.9,1107.2 879.2,1110.4 880.9,1113.5 882.6,1115.8 884.3,1116.8 884.4,1116.8 886.3,1115.8 888.5,1113.2 890.2,1110.4 890.4,1110.0 891.3,1107.9 892.1,1105.2 892.9,1102.4 893.6,1099.5 894.2,1096.6 894.7,1093.7 895.3,1090.8 895.3,1090.7 895.8,1088.0 896.3,1085.1 896.8,1082.3 897.3,1079.4 897.8,1076.6 898.2,1073.7 898.6,1070.8 899.0,1067.9 899.4,1065.1 899.8,1062.2 900.1,1060.3 900.2,1059.3 900.6,1056.5 901.0,1053.6 901.4,1050.7 901.8,1047.8 902.2,1045.0 902.6,1042.1 902.9,1039.2 903.2,1036.3 903.5,1033.5 903.8,1030.6 903.8,1030.0 904.0,1027.7 904.2,1024.8 904.4,1021.9 904.6,1019.0 904.8,1016.2 905.0,1013.3 905.2,1010.4 905.4,1007.5 905.6,1004.6 905.8,1001.7 905.9,998.8 906.1,995.9 906.3,993.0 906.4,990.1 906.6,987.2 906.7,984.4 906.9,981.5 907.0,978.6 907.2,975.7 907.3,972.8 907.4,969.9 907.6,967.0 907.7,964.1 907.8,961.2 908.0,958.3 908.1,955.4 908.2,952.5 908.3,949.6 908.5,946.7 908.6,943.8 908.7,940.9 908.8,938.0 909.0,935.1 909.1,932.2 909.2,930.0 909.2,929.3 909.4,926.5 909.5,923.6 909.6,920.7 909.7,917.8 909.9,914.9 910.0,912.0 910.1,909.1 910.2,906.2 910.3,903.3 910.4,900.4 910.6,897.5 910.7,894.6 910.8,891.7 910.9,888.8 911.0,885.9 911.1,883.0 911.2,880.1 911.3,877.3 911.4,874.4 911.5,871.5 911.6,868.6 911.8,865.7 911.9,862.8 912.0,859.9 912.1,857.0 912.2,854.1 912.3,851.2 912.4,848.3 912.5,845.4 912.6,842.5 912.7,839.6 912.8,836.7 912.9,833.8 913.0,830.9 913.1,828.0 913.2,825.1 913.3,822.2 913.4,819.4 913.5,816.5 913.6,813.6 913.7,810.7 913.8,807.8 913.9,804.9 913.9,802.0 914.0,799.1 914.1,796.2 914.2,793.3 914.3,790.4 914.4,787.5 914.5,784.6 914.6,781.7 914.7,780.0 914.7,778.8 914.8,775.9 914.9,773.0 915.0,770.1 915.1,767.2 915.2,764.3 915.3,761.4 915.4,758.6 915.5,755.7 915.6,752.8 915.7,749.9 915.8,747.0 915.8,744.1 915.9,741.2 916.0,738.3 916.1,735.4 916.2,732.5 916.3,729.6 916.3,726.7 916.4,723.8 916.5,720.9 916.6,718.0 916.7,715.1 916.8,712.2 916.8,709.3 916.9,706.4 917.0,703.5 917.1,700.6 917.2,697.7 917.3,694.8 917.4,692.0 917.5,689.1 917.5,686.2 917.6,683.3 917.7,680.4 917.8,677.5 917.9,674.6 918.0,671.7 918.1,668.8 918.2,665.9 918.3,663.0 918.4,660.1 918.5,657.2 918.6,654.3 918.7,651.4 918.8,648.5 919.0,645.6 919.1,642.7 919.2,639.8 919.3,637.0 919.4,634.1 919.5,631.2 919.6,630.0 919.7,628.3 919.8,625.4 919.9,622.5 920.1,619.6 920.2,616.7 920.3,613.8 920.5,610.9 920.6,608.0 920.8,605.1 920.9,602.2 921.1,599.3 921.3,596.4 921.5,593.5 921.7,590.7 921.9,587.8 922.1,584.9 922.3,582.0 922.5,580.0 922.6,579.1 922.9,575.7 923.3,572.0 923.7,568.2 924.1,564.6 924.6,561.6 925.0,559.5 925.4,558.5 925.5,558.5 925.8,559.0 926.3,560.7 926.8,563.4 927.3,566.8 927.7,570.5 928.1,574.3 928.4,577.9 928.5,580.0 928.5,580.9 928.7,583.8 928.8,586.7 928.9,589.6 929.0,592.5 929.1,595.4 929.2,598.3 929.3,601.2 929.3,604.0 929.4,606.9 929.4,609.8 929.5,612.7 929.6,615.6 929.6,618.5 929.7,621.4 929.8,624.3 929.8,627.2 929.9,630.0 929.9,630.1 930.0,633.0 930.1,635.9 930.1,638.8 930.2,641.7 930.3,644.6 930.4,647.5 930.5,650.4 930.6,653.3 930.6,656.2 930.7,659.1 930.8,662.0 930.9,664.9 931.0,667.8 931.0,670.7 931.1,673.6 931.2,676.5 931.3,679.4 931.4,682.3 931.4,685.2 931.5,688.1 931.6,690.9 931.7,693.8 931.8,696.7 931.8,699.6 931.9,702.5 932.0,705.4 932.1,708.3 932.2,711.2 932.2,714.1 932.3,717.0 932.4,719.9 932.5,722.8 932.6,725.7 932.7,728.6 932.7,731.5 932.8,734.4 932.9,737.3 933.0,740.2 933.1,743.1 933.1,746.0 933.2,748.9 933.3,751.8 933.4,754.6 933.5,757.5 933.5,760.4 933.6,763.3 933.7,766.2 933.8,769.1 933.9,772.0 934.0,774.9 934.0,777.8 934.1,780.0 934.1,780.7 934.2,783.6 934.3,786.5 934.4,789.4 934.5,792.3 934.5,795.2 934.6,798.1 934.7,801.0 934.8,803.9 934.9,806.8 935.0,809.7 935.1,812.6 935.2,815.5 935.2,818.3 935.3,821.2 935.4,824.1 935.5,827.0 935.6,829.9 935.7,832.8 935.8,835.7 935.9,838.6 936.0,841.5 936.0,844.4 936.1,847.3 936.2,850.2 936.3,853.1 936.4,856.0 936.5,858.9 936.6,861.8 936.7,864.7 936.8,867.6 936.8,870.5 936.9,873.4 937.0,876.3 937.1,879.2 937.2,882.0 937.3,884.9 937.3,887.8 937.4,890.7 937.5,893.6 937.6,896.5 937.7,899.4 937.7,902.3 937.8,905.2 937.9,908.1 938.0,911.0 938.0,913.9 938.1,916.8 938.2,919.7 938.2,922.6 938.3,925.5 938.4,928.4 938.4,930.0 938.4,931.3 938.5,934.2 938.5,937.1 938.6,940.0 938.6,942.9 938.7,945.8 938.7,948.7 938.8,951.6 938.8,954.4 938.9,957.3 938.9,960.2 938.9,963.1 939.0,966.0 939.0,968.9 939.1,971.8 939.1,974.7 939.1,977.6 939.2,980.5 939.2,983.4 939.2,986.3 939.3,989.2 939.3,992.1 939.4,995.0 939.4,997.9 939.5,1000.8 939.5,1003.7 939.6,1006.6 939.7,1009.5 939.7,1012.4 939.8,1015.3 939.9,1018.2 939.9,1021.1 940.0,1024.0 940.1,1026.9 940.2,1029.7 940.2,1030.0 940.3,1032.6 940.5,1035.5 940.7,1038.4 940.9,1041.3 941.1,1044.2 941.4,1047.1 941.7,1050.0 942.0,1052.8 942.3,1055.7 942.5,1058.6 942.8,1061.5 943.0,1064.4 943.2,1066.4 943.3,1067.3 943.5,1070.2 943.6,1073.1 943.8,1076.0 944.0,1078.8 944.1,1081.7 944.3,1084.6 944.5,1087.5 944.6,1090.4 944.8,1093.3 944.9,1096.2 945.1,1099.1 945.3,1102.0 945.5,1104.9 945.7,1107.8 945.9,1110.7 946.2,1113.5 946.3,1115.0 946.4,1116.4 946.7,1119.3 947.0,1122.2 947.4,1125.1 947.8,1128.1 948.2,1130.9 948.7,1133.8 949.3,1136.6 949.9,1139.2 949.9,1139.3 950.8,1142.1 951.9,1144.9 953.3,1147.6 954.9,1150.0 956.0,1151.4 956.6,1152.1 958.8,1154.2 961.3,1156.0 963.9,1157.1 964.5,1157.2 966.6,1157.5 969.5,1157.8 972.5,1157.9 975.0,1158.0 975.4,1158.0 978.3,1158.0 981.2,1158.0 984.1,1158.0 987.0,1158.0 989.9,1158.0 992.8,1158.0 995.7,1158.0 998.6,1158.0 1001.4,1158.0 1004.3,1158.0 1007.2,1158.0 1010.1,1158.0 1013.0,1158.0 1015.9,1158.0 1018.8,1158.0 1021.7,1158.0 1024.6,1158.0 1027.5,1158.0 1030.4,1158.0 1033.3,1158.0 1036.1,1158.0 1039.0,1158.0 1041.9,1158.0 1044.8,1158.0 1047.7,1158.0 1050.6,1158.0 1053.5,1158.0 1056.4,1158.0 1059.3,1158.0 1062.2,1158.0 1065.1,1158.0 1068.0,1158.0 1070.8,1158.0 1073.7,1158.0 1076.6,1158.0 1079.5,1158.0 1082.4,1158.0 1085.3,1158.0 1088.2,1158.0 1091.1,1158.0 1094.0,1158.0 1096.9,1158.0 1099.8,1158.0 1102.7,1158.0 1105.6,1158.0 1108.5,1158.0 1111.3,1158.0 1114.2,1158.0 1117.1,1158.0 1120.0,1158.0 1122.9,1158.0 1125.8,1158.0 1128.7,1158.0 1131.6,1158.0 1134.5,1158.0 1137.4,1158.0 1140.3,1158.0 1143.2,1158.0 1146.1,1158.0 1149.0,1158.0 1151.8,1158.0 1154.7,1158.0 1157.6,1158.0 1160.5,1158.0 1163.4,1158.0 1166.3,1158.0 1169.2,1158.0 1172.1,1158.0 1175.0,1158.0 1177.9,1158.0 1180.8,1158.0 1183.7,1158.0 1186.6,1158.0 1189.5,1158.0 1192.4,1158.0 1195.3,1158.0 1198.1,1158.0 1201.0,1158.0 1203.9,1158.0 1206.8,1158.0 1209.7,1158.0 1212.6,1158.0 1215.5,1158.0 1218.4,1158.0 1221.3,1158.0 1224.2,1158.0 1227.1,1158.0 1230.0,1158.0 1232.9,1158.0 1235.8,1158.0 1238.7,1158.0 1241.6,1158.0 1244.5,1158.0 1247.4,1158.0 1250.2,1158.0 1253.1,1158.0 1256.0,1158.0 1258.9,1158.0 1261.8,1158.0 1264.7,1158.0 1267.6,1158.0 1270.5,1158.0 1273.4,1158.0 1276.3,1158.0 1279.2,1158.0 1282.1,1158.0 1285.0,1158.0 1287.9,1158.0 1290.8,1158.0 1293.7,1158.0 1296.6,1158.0 1299.5,1158.0 1302.4,1158.0 1305.3,1158.0 1308.2,1158.0 1311.1,1158.0 1314.0,1158.0 1316.9,1158.0 1319.8,1158.0 1322.6,1158.0 1325.5,1158.0 1328.4,1158.0 1331.3,1158.0 1334.2,1158.0 1337.1,1158.0 1340.0,1158.0 1342.9,1158.0 1345.8,1158.0 1348.7,1158.0 1351.6,1158.0 1354.5,1158.0 1357.4,1158.0 1360.3,1158.0 1363.2,1158.0 1366.1,1158.0 1369.0,1158.0 1371.9,1158.0 1374.8,1158.0 1377.7,1158.0 1380.6,1158.0 1383.5,1158.0 1386.4,1158.0 1389.3,1158.0 1392.2,1158.0 1395.1,1158.0 1398.0,1158.0 1400.9,1158.0 1403.8,1158.0 1406.7,1158.0 1409.6,1158.0 1412.5,1158.0 1415.4,1158.0 1418.3,1158.0 1421.2,1158.0 1424.1,1158.0 1427.0,1158.0 1429.9,1158.0 1432.8,1158.0 1435.7,1158.0 1438.6,1158.0 1441.5,1158.0 1444.4,1158.0 1447.3,1158.0 1450.2,1158.0 1453.1,1158.0 1456.0,1158.0 1458.9,1158.0 1461.8,1158.0 1464.7,1158.0 1467.6,1158.0 1470.5,1158.0 1473.4,1158.0 1476.3,1158.0 1479.2,1158.0 1482.1,1158.0 1485.0,1158.0 1487.9,1158.0 1490.8,1158.0 1493.7,1158.0 1496.6,1158.0 1499.5,1158.0 1502.4,1158.0 1505.3,1158.0 1508.2,1158.0 1511.1,1158.0 1514.0,1158.0 1516.9,1158.0 1519.8,1158.0 1522.7,1158.0 1525.6,1158.0 1528.5,1158.0 1531.4,1158.0 1534.3,1158.0 1537.2,1158.0 1540.1,1158.0 1543.0,1158.0 1545.9,1158.0 1548.8,1158.0 1551.7,1158.0 1554.6,1158.0 1557.5,1158.0 1560.4,1158.0 1563.3,1158.0 1566.2,1158.0 1569.1,1158.0 1572.1,1158.0 1575.0,1158.0 1577.9,1158.0 1580.8,1158.0 1583.7,1158.0 1586.6,1158.0 1589.5,1158.0 1592.4,1158.0 1595.3,1158.0 1597.5,1158.0"/>
</g>
<rect x="1076.4" y="87.4" width="478.4" height="444.6" fill="#fff" stroke="#262626" stroke-width="3" shape-rendering="crispEdges"/>
<g shape-rendering="crispEdges">
<line x1="1089" y1="119.9" x2="1221" y2="119.9" stroke="#0072BD" stroke-width="6"/>
<line x1="1089" y1="174.1" x2="1221" y2="174.1" stroke="#FF00FF" stroke-width="6"/>
<line x1="1089" y1="228.4" x2="1221" y2="228.4" stroke="#0000FF" stroke-width="6" stroke-dasharray="33.3 19.4"/>
<line x1="1089" y1="282.4" x2="1221" y2="282.4" stroke="#00FF00" stroke-width="6" stroke-dasharray="27.7 8.3 8.3 8.3"/>
<line x1="1089" y1="336.9" x2="1221" y2="336.9" stroke="#00FFFF" stroke-width="6"/>
<line x1="1089" y1="390.9" x2="1221" y2="390.9" stroke="#000000" stroke-width="6" stroke-dasharray="33.3 19.4"/>
<line x1="1089" y1="445.5" x2="1221" y2="445.5" stroke="#FF0000" stroke-width="6" stroke-dasharray="27.7 8.3 8.3 8.3"/>
<line x1="1089" y1="499.7" x2="1221" y2="499.7" stroke="#FFFF00" stroke-width="6"/>
</g>
<g class="leg">
<text x="1230.5" y="136.3">Realbeam data</text>
<text x="1230.5" y="190.5">TSVD</text>
<text x="1230.5" y="244.8">REGU</text>
<text x="1230.5" y="298.8">Lucy</text>
<text x="1230.5" y="353.3">IAA</text>
<text x="1230.5" y="407.3">Batch L1</text>
<text x="1230.5" y="461.9">OL-L1</text>
<text x="1230.5" y="516.1">Proposed method</text>
</g>
</svg>
</body>
</html>
